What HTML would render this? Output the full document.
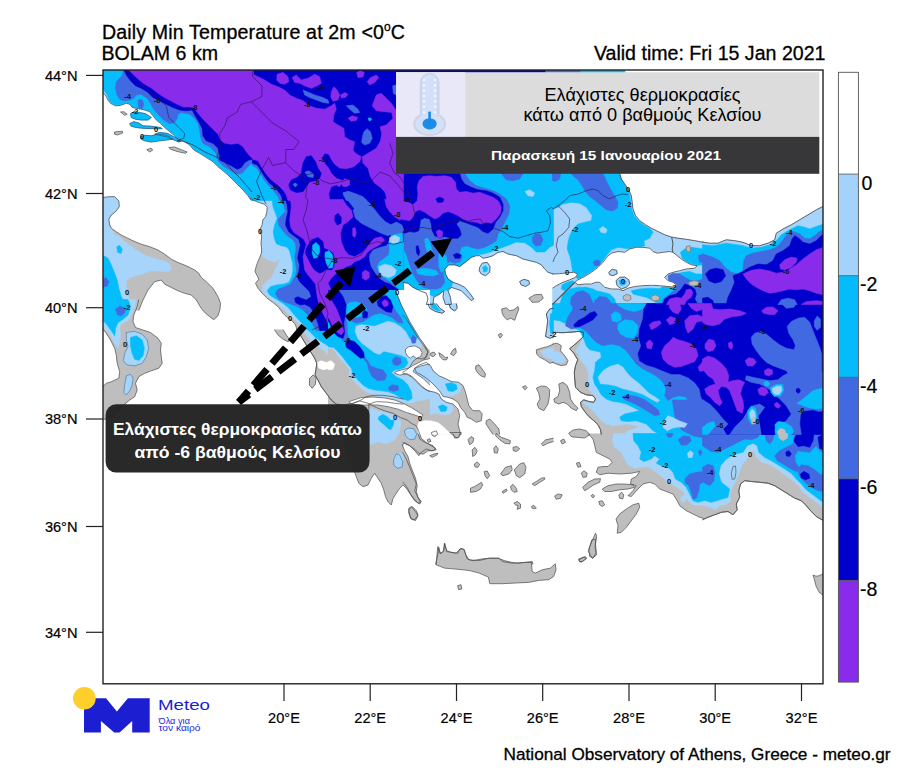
<!DOCTYPE html>
<html><head><meta charset="utf-8">
<style>
html,body{margin:0;padding:0;background:#fff;}
body{width:906px;height:780px;overflow:hidden;position:relative;font-family:"Liberation Sans",sans-serif;}
svg{position:absolute;left:0;top:0;}
text{font-family:"Liberation Sans",sans-serif;fill:#000;}
.tb text,text.tb{stroke:#000;stroke-width:0.3px;}
.tc text{stroke:#000;stroke-width:0.2px;}
</style></head><body>
<svg width="906" height="780" viewBox="0 0 906 780">
<defs>
<clipPath id="mapclip"><rect x="103" y="70" width="720" height="614"/></clipPath>
</defs>
<rect x="0" y="0" width="906" height="780" fill="#fff"/>
<!-- TITLES -->
<text class="tb" x="102" y="38.6" font-size="19.6" textLength="303" lengthAdjust="spacing">Daily Min Temperature at 2m &lt;0<tspan font-size="12" dy="-7.5">o</tspan><tspan dy="7.5">C</tspan></text>
<text class="tb" x="101.5" y="59.8" font-size="19.6">BOLAM 6 km</text>
<text class="tb" x="825.5" y="59.8" font-size="19.6" text-anchor="end">Valid time: Fri 15 Jan 2021</text>
<!-- MAP CONTENT -->
<g id="map" clip-path="url(#mapclip)">
<!--MAPBEGIN-->
<path d="M114.3 132.0 L122.2 131.2 L122.7 133.0 L117.2 135.0 L114.7 134.2Z M146.7 149.7 L151.3 148.3 L152.7 150.0 L149.7 152.0Z M168.8 147.5 L174.7 147.0 L181.3 149.7 L187.2 152.0 L185.5 153.3 L178.0 151.7 L170.5 149.2Z M120.5 112.0 L123.8 111.7 L127.2 114.2 L124.7 115.3Z M403.5 199.5 L403.5 330.5 L297.2 330.5 L295.5 325.0 L292.2 320.8 L287.2 317.5 L283.0 313.3 L278.8 307.5 L273.0 302.5 L267.2 298.3 L262.2 293.3 L258.0 288.3 L255.5 283.3 L258.8 279.2 L257.2 275.8 L255.0 271.7 L256.3 265.8 L259.3 258.3 L261.3 253.3 L261.7 250.0 L261.0 243.0 L261.7 236.2 L259.8 230.3 L262.2 224.7 L262.8 220.0 L265.7 216.5 L266.8 211.8 L267.3 207.3 L264.5 204.3 L256.3 201.5 L249.7 198.0Z M528.8 298.2 L534.7 294.8 L541.3 294.3 L543.3 298.2 L538.8 302.0 L532.2 302.3Z M138.8 299.5 L137.2 306.7 L133.8 315.0 L133.0 321.7 L135.5 327.5 L143.0 330.0 L150.5 332.5 L158.0 338.3 L161.3 343.3 L160.5 350.0 L161.3 356.7 L162.2 363.3 L158.8 368.3 L151.3 370.8 L144.7 373.3 L138.8 376.7 L135.5 383.3 L137.2 390.0 L134.7 396.7 L129.7 400.0 L124.7 404.2 L119.7 408.3 L113.0 416.7 L102.5 420.0 L102.5 386.7 L106.3 383.3 L111.3 381.7 L118.8 378.3 L119.7 371.7 L117.2 363.3 L116.3 355.0 L114.7 348.3 L110.5 340.0 L106.3 333.3 L102.5 328.3 L102.5 299.5Z M102.5 197.5 L109.7 196.7 L114.7 196.7 L118.8 200.8 L119.3 206.7 L115.5 211.7 L111.3 215.0 L108.8 219.2 L109.7 225.0 L111.3 228.3 L116.3 231.7 L121.3 235.0 L126.3 237.5 L133.0 240.8 L141.3 244.2 L149.7 246.7 L158.0 250.0 L164.7 254.2 L171.3 259.2 L178.0 262.5 L186.3 265.8 L194.7 270.0 L198.8 273.3 L201.3 277.5 L206.3 281.7 L213.0 288.3 L218.0 296.7 L220.5 303.3 L220.0 309.2 L218.0 315.8 L213.8 319.7 L209.7 316.7 L204.7 312.5 L201.0 308.0 L198.8 304.2 L196.3 300.0 L191.3 295.0 L184.7 293.3 L178.0 290.8 L171.3 287.5 L164.7 284.2 L161.3 280.0 L154.7 281.7 L148.0 290.0 L143.0 300.0 L138.8 310.5 L102.5 310.5Z M403.5 329.5 L403.5 399.2 L393.0 396.7 L383.0 395.3 L373.0 395.3 L366.3 396.7 L359.7 400.8 L353.0 403.3 L343.0 405.0 L336.3 404.2 L331.3 400.0 L326.3 393.3 L321.3 386.7 L318.0 380.0 L315.0 375.0 L316.0 369.2 L316.8 363.3 L314.7 358.3 L310.5 351.7 L306.3 345.0 L301.3 336.7 L297.2 329.5Z M368.8 404.2 L376.3 401.7 L386.3 402.0 L394.7 403.3 L403.5 404.2 L403.5 460.5 L368.8 460.5Z M283.0 329.5 L286.3 335.0 L290.0 340.0 L288.0 341.7 L283.0 339.2 L278.0 335.0 L274.3 329.5Z M309.7 378.3 L313.0 375.0 L316.0 377.5 L315.5 384.2 L312.2 388.3 L309.3 385.0Z M402.5 314.8 L406.3 319.0 L410.5 325.7 L414.7 332.3 L418.8 339.0 L423.8 345.7 L428.0 352.3 L426.3 357.3 L421.3 359.0 L417.2 358.2 L413.0 361.5 L409.7 367.3 L405.5 370.7 L402.5 372.3Z M414.7 368.2 L419.7 364.8 L426.3 362.3 L430.5 365.7 L433.0 370.7 L438.8 375.7 L444.7 378.2 L451.3 381.5 L458.8 382.3 L463.0 385.7 L465.5 392.3 L467.2 399.0 L468.8 405.7 L473.0 410.7 L479.7 410.7 L482.2 414.0 L481.3 420.7 L476.3 422.3 L471.3 419.0 L467.2 417.3 L464.7 412.3 L460.5 407.3 L458.0 402.3 L453.0 399.0 L448.0 397.3 L443.0 396.5 L440.5 392.3 L436.3 387.3 L431.3 382.3 L426.3 378.2 L421.3 374.8 L416.3 372.3Z M402.5 373.2 L408.0 374.0 L413.0 377.3 L418.0 382.3 L423.0 387.3 L428.0 390.7 L434.7 392.3 L438.8 394.0 L441.3 399.0 L446.3 402.3 L453.0 404.0 L458.0 409.0 L459.7 415.7 L458.0 424.0 L459.7 430.7 L461.3 434.5 L402.5 434.5Z M430.5 353.2 L433.8 352.0 L435.8 354.3 L433.3 356.7 L430.8 355.7Z M438.8 352.7 L442.2 354.8 L445.5 357.7 L447.7 357.0 L446.7 359.8 L443.0 359.8 L440.0 356.5Z M450.5 354.0 L453.0 349.8 L455.5 348.2 L456.3 352.3 L453.8 355.7Z M475.8 366.0 L478.8 364.8 L482.2 369.0 L485.5 374.0 L484.7 377.3 L480.5 375.7 L477.2 372.3 L475.5 369.0Z M501.7 309.0 L506.3 307.7 L509.7 310.7 L513.8 309.8 L518.0 306.5 L518.8 309.0 L516.3 315.7 L514.7 320.3 L510.5 318.2 L507.2 319.8 L503.8 316.5 L502.2 313.2Z M536.3 349.8 L541.3 348.2 L548.0 346.5 L553.5 344.0 L553.5 362.3 L549.7 363.2 L544.7 359.8 L539.7 357.3 L536.7 354.0Z M536.3 388.2 L541.3 386.0 L546.3 386.5 L549.7 389.8 L549.3 397.3 L548.0 404.0 L543.8 410.7 L538.8 408.2 L537.2 404.0 L540.0 399.0 L538.8 393.2Z M486.3 420.7 L489.7 419.0 L494.7 424.0 L498.8 429.0 L499.7 434.5 L493.0 434.5 L488.8 428.2 L486.0 424.0Z M522.5 386.8 L525.5 385.7 L527.2 387.8 L524.7 389.8Z M498.3 334.8 L501.0 333.2 L502.5 335.3 L500.0 338.2Z M703.5 303.5 L703.5 434.5 L601.3 434.5 L600.5 429.8 L598.0 424.8 L593.8 420.7 L588.8 416.5 L584.7 411.5 L581.3 406.5 L580.5 402.3 L583.8 399.8 L588.8 401.5 L593.8 402.3 L595.5 399.0 L593.0 395.7 L586.3 394.8 L580.5 392.3 L575.5 387.3 L574.7 379.0 L574.3 372.3 L575.5 365.7 L577.7 359.8 L573.8 353.2 L569.7 348.7 L573.3 345.7 L578.3 341.5 L583.3 336.5 L583.5 332.0 L578.0 331.5 L573.0 332.0 L563.0 332.7 L552.5 332.3 L552.5 303.5Z M558.8 384.0 L563.0 382.3 L567.2 385.7 L569.7 392.3 L570.5 399.0 L573.8 404.0 L578.0 408.2 L576.3 410.7 L571.3 408.2 L567.2 404.0 L563.0 402.3 L558.8 404.0 L554.7 402.3 L553.8 399.0 L558.0 396.5 L559.7 390.7Z M552.5 344.0 L557.2 343.2 L561.3 345.7 L560.5 350.7 L564.7 355.7 L568.0 360.7 L566.3 364.8 L561.3 365.7 L556.3 364.0 L552.5 362.3Z M823.5 433.5 L823.5 520.7 L816.3 516.5 L811.3 511.5 L806.3 505.7 L801.3 500.7 L794.7 498.2 L788.0 494.0 L781.3 489.8 L774.7 485.7 L768.0 483.2 L759.7 482.3 L751.3 481.5 L744.7 480.7 L740.5 484.0 L738.8 490.7 L739.7 497.3 L736.3 504.0 L737.2 509.8 L733.0 514.8 L728.0 511.5 L721.3 512.3 L714.7 514.8 L708.0 517.3 L702.5 519.8 L702.5 433.5Z M703.5 433.5 L703.5 518.2 L699.7 517.3 L693.0 514.0 L686.3 510.7 L679.7 505.7 L677.2 500.7 L673.0 494.0 L666.3 491.5 L659.7 489.0 L654.7 484.0 L649.7 482.3 L643.0 484.0 L638.0 489.0 L631.3 496.5 L628.0 495.7 L633.0 490.7 L636.3 485.7 L630.5 484.0 L631.3 479.0 L636.3 476.5 L639.7 471.5 L631.3 473.2 L619.7 474.0 L608.0 473.2 L599.7 474.8 L596.3 472.3 L598.0 467.3 L603.0 466.5 L608.0 466.5 L612.2 462.3 L609.7 459.0 L603.0 455.7 L596.3 452.3 L594.7 445.7 L593.0 439.0 L588.0 433.5Z M602.2 489.0 L608.0 485.7 L616.3 484.0 L624.7 484.0 L633.0 484.8 L634.7 487.3 L628.0 489.0 L619.7 489.8 L611.3 491.5 L604.7 491.5Z M616.0 519.0 L619.7 514.0 L626.3 509.0 L633.0 504.8 L638.8 503.2 L639.7 507.3 L636.3 514.0 L631.3 520.7 L626.3 527.3 L621.3 532.3 L617.2 533.2 L618.0 525.7Z M588.8 549.0 L592.2 540.7 L595.5 533.2 L596.7 535.7 L595.5 544.0 L596.3 552.3 L593.0 558.2 L589.7 556.5Z M578.8 559.0 L583.8 557.0 L586.3 558.2 L583.0 561.5 L579.7 562.0Z M582.7 487.3 L588.0 482.3 L594.7 479.0 L600.5 478.7 L599.7 482.3 L593.8 484.8 L588.8 488.2 L584.7 490.7Z M581.3 473.2 L583.8 470.7 L587.2 473.2 L586.3 477.0 L583.0 477.3Z M576.3 463.2 L579.3 462.3 L581.0 466.5 L578.0 467.3Z M618.8 494.8 L621.7 492.3 L623.8 494.8 L622.7 499.0 L619.7 498.2Z M591.0 495.7 L593.0 494.3 L594.7 496.0 L593.0 498.0Z M554.7 496.0 L558.0 494.0 L562.2 494.8 L560.5 498.2 L556.3 499.3Z M598.8 501.5 L602.2 500.7 L604.7 504.8 L602.2 506.5 L599.7 504.8Z M560.5 440.7 L563.8 439.0 L565.5 442.3 L562.2 444.0Z M402.5 433.5 L418.0 433.5 L419.7 439.0 L424.7 442.3 L433.0 445.7 L436.3 449.8 L431.3 450.7 L426.3 449.0 L421.3 452.3 L418.8 455.7 L414.7 450.7 L409.7 445.7 L405.5 444.0 L402.5 442.3Z M402.5 452.3 L406.3 459.0 L409.7 467.3 L413.0 475.7 L416.3 484.0 L414.7 490.7 L418.0 497.3 L421.3 501.5 L419.7 504.0 L414.7 500.7 L411.3 495.7 L408.0 489.0 L404.7 484.0 L402.5 482.3Z M408.8 508.2 L412.2 506.5 L416.3 510.7 L418.0 514.8 L414.7 519.8 L410.5 518.2 L408.8 513.2Z M435.5 564.5 L438.0 554.0 L438.8 547.3 L440.5 554.0 L443.8 550.7 L444.7 543.2 L446.7 550.7 L451.3 552.3 L458.0 553.2 L459.7 549.0 L463.8 549.0 L465.5 554.0 L467.2 559.0 L473.0 560.7 L481.3 559.0 L489.7 558.2 L498.0 558.2 L504.7 560.7 L511.3 562.3 L518.0 563.2 L524.7 562.3 L532.2 561.5 L533.0 564.5Z M468.0 439.8 L471.0 436.5 L473.8 438.2 L473.0 442.3 L469.7 444.8Z M472.2 449.8 L475.0 447.3 L477.2 450.7 L475.5 454.8 L472.7 456.5Z M474.3 464.0 L477.2 462.0 L479.7 464.3 L478.0 467.3 L475.0 467.0Z M484.3 471.5 L487.2 471.0 L489.7 475.7 L487.2 478.7 L485.0 475.7Z M470.5 488.2 L474.7 486.5 L478.8 484.0 L481.3 482.3 L482.7 484.8 L480.5 489.0 L476.3 491.5 L470.5 492.3Z M493.8 448.2 L496.0 445.7 L498.3 449.0 L497.2 453.2 L494.3 452.7Z M496.3 433.5 L501.3 437.3 L506.3 439.0 L510.5 440.7 L509.7 444.0 L504.7 443.2 L499.7 439.8 L495.5 435.7Z M513.0 447.3 L517.2 446.5 L519.7 449.0 L516.3 451.5 L513.3 450.7Z M500.5 474.0 L505.5 467.3 L511.3 465.7 L512.2 469.8 L508.8 474.0 L503.0 475.7Z M514.3 469.8 L519.7 464.0 L523.8 462.7 L526.0 467.3 L524.7 474.0 L519.7 477.7 L516.3 475.7Z M510.5 486.5 L513.0 484.3 L516.3 488.2 L517.2 491.5 L513.8 492.3 L511.3 489.8Z M502.2 491.5 L506.3 489.0 L507.2 490.7 L503.0 493.2Z M513.8 503.2 L517.2 501.5 L520.5 504.0 L520.5 508.2 L517.2 509.3 L518.0 505.7 L515.5 504.8Z M531.3 506.5 L533.8 505.3 L536.3 508.2 L532.7 508.7Z M532.2 484.0 L536.3 481.5 L541.3 478.2 L544.7 477.7 L544.7 479.3 L539.7 482.3 L534.7 485.7Z M541.3 444.0 L545.5 439.8 L553.5 438.2 L553.5 441.5 L548.0 443.2 L543.0 445.7Z M429.7 455.7 L433.8 454.0 L438.0 453.2 L437.2 454.8 L432.2 457.3Z M453.0 433.5 L459.7 433.5 L458.8 437.3 L454.7 438.2Z M427.2 439.8 L429.7 438.7 L431.0 441.5 L428.3 442.3Z M359.7 400.8 L368.0 403.3 L376.3 407.5 L384.7 410.8 L393.0 413.3 L400.5 417.5 L407.2 420.0 L411.3 423.3 L416.3 425.8 L418.8 431.7 L421.3 438.3 L426.3 442.5 L431.3 445.8 L435.5 448.3 L433.8 450.8 L428.0 450.8 L423.0 454.2 L418.8 453.3 L414.7 449.2 L409.7 445.8 L404.7 442.5 L402.2 445.0 L404.7 450.8 L408.0 456.7 L409.7 463.3 L412.2 470.0 L415.5 478.3 L417.2 485.8 L416.3 491.7 L418.0 497.5 L420.5 502.5 L418.0 503.3 L413.8 498.3 L409.7 493.3 L406.3 488.3 L403.0 485.0 L399.7 488.3 L396.3 493.3 L393.0 498.3 L391.3 505.0 L388.0 501.7 L385.5 496.7 L383.8 490.0 L381.3 483.3 L378.0 478.3 L374.7 473.3 L371.3 478.3 L368.0 485.0 L363.0 486.7 L358.8 483.3 L356.3 476.7 L354.7 472.5 L349.7 460.0 L346.3 448.3 L343.0 436.7 L342.5 423.3 L348.0 410.0 L353.0 403.3Z M408.8 510.0 L411.3 506.7 L415.5 511.7 L418.0 515.8 L415.5 520.5 L411.3 519.2 L409.7 514.2Z M449.7 432.5 L461.3 432.5 L459.7 435.8 L457.2 438.3 L453.0 435.0Z M431.3 432.5 L436.3 430.8 L437.7 434.2 L434.7 436.7 L432.2 435.3Z M436.1 564.8 L437.8 546.6 L440.1 553.2 L443.4 551.6 L444.4 543.3 L446.7 551.6 L456.0 553.2 L460.9 548.3 L464.3 549.9 L465.9 554.9 L469.2 559.9 L479.2 560.5 L489.1 558.2 L499.0 558.2 L502.3 561.5 L512.3 563.2 L525.5 562.5 L531.5 562.5 L532.1 571.5 L535.5 573.1 L542.1 569.8 L550.4 568.1 L555.3 563.8 L556.0 569.8 L553.7 576.4 L548.7 579.7 L538.8 580.4 L528.8 582.4 L515.6 583.0 L502.3 583.7 L489.8 583.7 L488.4 577.1 L479.2 573.1 L469.2 570.5 L456.0 569.1 L444.4 568.1Z M588.4 551.6 L591.7 540.0 L595.7 539.0 L595.1 548.3 L596.7 554.9 L592.4 558.2Z M578.5 559.9 L585.1 556.6 L586.8 558.2 L581.1 562.2Z M457.6 585.7 L460.9 584.7 L461.9 589.0 L458.6 589.7Z M813.0 575.1 L816.1 576.2 L819.2 575.7 L823.2 573.8 L823.2 595.4 L819.2 592.3 L816.1 586.2 L814.5 580.0Z M568.7 433.3 L573.0 430.0 L579.7 429.0 L586.3 430.7 L589.7 434.7 L584.7 438.0 L576.3 437.3 L571.3 436.7Z" fill="#bebebe" stroke="none"/>
<path d="M102.5 69.5 L253.5 69.5 L253.5 200.5 L251.3 200.5 L248.0 195.8 L243.0 190.0 L238.0 185.0 L233.0 180.0 L228.0 175.0 L223.0 170.8 L218.0 166.7 L213.0 161.7 L206.3 157.5 L199.7 153.3 L193.8 150.0 L189.7 145.0 L183.0 140.8 L177.2 138.3 L174.7 135.8 L169.7 131.7 L164.7 127.5 L160.5 123.3 L156.3 120.0 L153.0 115.8 L149.7 111.7 L144.7 110.0 L138.8 108.7 L132.2 107.5 L129.7 104.2 L126.3 103.3 L120.5 105.3 L115.5 105.8 L110.5 103.3 L108.0 100.0 L105.5 95.0 L102.5 92.5Z M252.5 69.5 L403.5 69.5 L403.5 200.5 L252.5 200.5Z M403.5 199.5 L403.5 330.5 L301.3 330.5 L300.5 326.7 L298.0 322.5 L293.8 319.2 L288.8 315.0 L283.8 309.2 L278.0 304.2 L271.3 300.0 L265.5 295.0 L262.2 290.0 L263.0 285.0 L266.3 281.7 L271.3 278.3 L273.8 273.3 L275.5 268.3 L278.0 264.2 L279.7 259.2 L274.7 261.7 L268.0 260.0 L263.0 256.7 L261.3 253.3 L261.7 250.0 L261.0 243.0 L261.7 236.2 L259.8 230.3 L262.2 224.7 L262.8 220.0 L265.7 216.5 L266.8 211.8 L267.3 207.3 L264.5 204.3 L256.3 201.5 L249.7 198.0Z M402.5 173.5 L553.5 173.5 L553.5 274.0 L548.0 272.3 L544.7 269.0 L541.3 264.8 L536.3 262.3 L529.7 260.7 L523.0 259.0 L516.3 255.7 L508.0 254.0 L503.0 251.5 L498.0 252.3 L493.0 255.7 L488.0 257.3 L483.0 258.2 L479.7 255.7 L476.3 255.7 L471.3 257.3 L467.2 260.7 L463.0 264.0 L459.7 266.5 L454.7 264.8 L448.8 264.8 L444.7 269.0 L445.5 274.0 L448.0 279.0 L453.0 282.3 L458.0 284.0 L464.7 287.3 L469.7 293.2 L473.8 299.0 L471.3 300.7 L466.3 295.7 L461.3 290.7 L456.3 289.0 L451.3 287.3 L448.0 290.7 L450.5 297.3 L451.3 304.5 L445.5 304.5 L443.0 297.3 L443.8 290.7 L439.7 294.0 L433.8 297.3 L433.0 304.5 L426.3 304.5 L428.0 299.0 L426.3 293.2 L419.7 290.7 L413.0 287.3 L408.0 283.2 L402.5 282.3Z M479.7 267.3 L482.2 263.2 L487.2 262.3 L490.0 266.5 L489.7 272.3 L485.5 275.7 L481.3 274.0 L479.2 270.7Z M519.7 281.5 L523.8 279.3 L528.8 280.7 L529.7 284.0 L525.5 286.5 L521.0 284.8Z M552.5 173.5 L619.7 173.5 L621.3 179.0 L624.7 184.0 L628.8 189.8 L631.3 195.7 L632.2 202.3 L633.0 209.0 L635.5 215.7 L639.7 220.7 L645.5 224.8 L651.3 228.2 L658.0 231.5 L664.7 234.8 L671.3 237.0 L678.0 238.2 L686.3 239.3 L694.7 240.7 L703.5 242.3 L703.5 304.5 L552.5 304.5Z M702.5 242.0 L709.7 243.2 L718.0 243.2 L726.3 239.8 L734.7 240.7 L743.0 242.3 L751.3 245.7 L759.7 245.7 L768.0 243.2 L774.7 239.8 L776.3 233.2 L783.0 229.0 L791.3 224.8 L799.7 219.8 L808.0 214.8 L816.3 209.8 L823.5 206.2 L823.5 304.5 L702.5 304.5Z M102.5 299.5 L136.3 299.5 L134.7 306.7 L131.3 315.0 L128.0 320.8 L122.2 323.3 L119.7 327.5 L120.5 335.0 L119.7 341.7 L118.0 348.3 L115.5 345.0 L112.2 338.3 L108.0 332.5 L102.5 326.7Z M126.3 332.5 L134.7 331.3 L142.2 334.2 L147.2 340.0 L148.8 348.3 L146.3 356.7 L142.2 363.3 L134.7 365.8 L127.2 365.0 L123.3 360.8 L124.7 353.3 L128.0 346.7 L126.3 339.2Z M126.3 375.8 L130.5 374.2 L133.0 378.3 L132.2 385.0 L129.7 390.8 L126.3 395.0 L123.8 392.5 L124.7 385.0Z M102.5 197.5 L109.7 196.7 L114.7 196.7 L118.8 200.8 L119.3 206.7 L115.5 211.7 L111.3 215.0 L108.8 219.2 L109.7 225.0 L111.3 228.3 L114.7 235.0 L119.7 236.7 L124.7 241.7 L129.7 245.0 L136.3 250.0 L143.0 254.2 L151.3 257.5 L159.7 260.0 L166.3 261.7 L170.5 265.0 L171.3 269.2 L168.0 271.7 L159.7 271.3 L151.3 270.8 L144.7 273.3 L136.3 275.8 L129.7 277.5 L126.3 281.7 L126.3 288.3 L128.0 295.0 L129.7 301.7 L128.0 310.5 L102.5 310.5Z M403.5 329.5 L403.5 398.3 L396.3 396.7 L386.3 395.3 L376.3 394.2 L368.0 391.7 L361.3 387.5 L356.3 383.3 L353.0 378.3 L351.3 371.7 L348.0 365.8 L341.3 361.7 L334.7 359.2 L328.0 355.0 L323.0 350.0 L318.0 346.7 L311.3 341.7 L306.3 335.0 L301.3 329.5Z M368.8 408.3 L376.3 410.0 L383.0 411.7 L391.3 413.3 L398.0 416.7 L401.0 422.5 L399.7 428.3 L396.7 433.3 L393.0 438.3 L388.8 440.8 L384.7 439.2 L379.7 440.8 L374.7 443.3 L368.8 445.0Z M393.8 456.7 L398.0 453.7 L403.5 453.3 L403.5 460.5 L394.7 460.5Z M402.5 314.8 L406.3 319.0 L410.5 325.7 L414.7 332.3 L418.8 339.0 L422.2 344.8 L421.3 349.0 L418.8 354.0 L417.2 358.2 L413.0 361.5 L409.7 367.3 L405.5 370.7 L402.5 372.3Z M414.7 368.2 L419.7 364.8 L426.3 362.3 L430.5 366.5 L433.8 371.5 L438.8 376.0 L444.7 378.5 L451.3 381.8 L458.8 382.7 L461.3 387.3 L459.7 392.3 L453.0 395.7 L446.3 396.5 L442.2 394.8 L440.5 391.5 L436.3 387.0 L431.3 382.0 L426.3 377.8 L421.3 374.5 L416.3 372.0Z M402.5 373.2 L408.0 374.0 L413.0 377.3 L418.0 382.3 L423.0 387.3 L428.0 390.7 L434.7 392.3 L438.8 394.0 L441.3 399.0 L446.3 402.3 L452.2 404.8 L453.0 410.7 L449.7 414.0 L443.0 414.8 L436.3 413.2 L429.7 414.8 L424.7 414.0 L421.3 410.7 L416.3 407.3 L409.7 405.3 L402.5 404.0Z M540.5 351.5 L546.3 349.0 L553.5 347.7 L553.5 359.0 L549.7 359.0 L544.7 356.5Z M546.3 314.0 L549.7 309.0 L553.5 308.2 L553.5 337.3 L549.7 338.2 L545.5 336.5 L546.7 329.0 L547.7 320.7Z M436.3 303.5 L439.7 308.2 L444.7 311.5 L442.2 313.2 L435.5 311.5 L429.7 308.2 L428.0 303.5Z M456.3 303.5 L457.2 308.2 L454.7 311.0 L450.5 308.2 L448.8 303.5Z M552.5 352.3 L558.0 351.5 L563.0 355.7 L565.5 360.7 L562.2 363.2 L556.3 362.3 L552.5 360.7Z M552.5 303.5 L703.5 303.5 L703.5 434.5 L623.0 434.5 L628.0 430.7 L636.3 428.2 L638.8 426.5 L633.0 424.8 L626.3 424.0 L619.7 424.8 L613.0 425.7 L606.3 424.0 L601.3 420.7 L597.2 415.7 L593.0 410.7 L588.8 406.5 L583.8 404.0 L582.2 400.7 L588.8 402.3 L593.8 402.7 L596.0 399.3 L594.7 395.7 L589.7 390.7 L588.0 382.3 L588.8 374.0 L586.3 367.3 L580.5 359.8 L578.0 354.0 L575.5 350.7 L580.5 344.0 L583.3 336.5 L583.5 332.0 L578.0 331.5 L573.0 332.0 L563.0 332.7 L552.5 332.3Z M702.5 303.5 L823.5 303.5 L823.5 434.5 L702.5 434.5Z M702.5 433.5 L823.5 433.5 L823.5 508.2 L816.3 502.3 L809.7 497.3 L803.0 492.3 L799.7 487.3 L794.7 482.3 L788.0 477.3 L781.3 472.3 L774.7 467.3 L768.0 464.0 L761.3 462.3 L756.3 457.3 L753.8 450.7 L750.5 451.5 L747.2 459.0 L741.3 465.7 L738.8 473.2 L735.5 481.5 L732.2 487.3 L729.7 494.0 L730.5 501.5 L726.3 504.0 L719.7 505.7 L715.5 509.8 L709.7 507.3 L702.5 504.8Z M731.3 473.2 L733.0 466.5 L735.5 466.0 L736.0 472.3 L734.7 479.0 L732.2 479.3Z M703.5 433.5 L703.5 504.8 L699.7 505.7 L693.0 504.8 L688.0 500.7 L684.7 494.0 L679.7 489.0 L673.0 484.8 L666.3 480.7 L659.7 474.8 L653.0 469.8 L648.0 466.5 L641.3 467.3 L634.7 468.2 L628.0 464.8 L624.7 459.0 L621.3 452.3 L614.7 447.3 L612.2 440.7 L613.8 433.5Z M680.5 498.2 L683.8 494.8 L686.7 496.5 L685.5 501.5 L681.7 502.3Z M368.8 408.3 L376.3 410.0 L384.7 412.5 L393.0 415.0 L398.8 419.2 L400.5 425.8 L398.8 433.3 L394.7 440.0 L388.0 443.3 L381.3 443.3 L376.3 439.2 L373.8 431.7 L368.8 429.2Z M404.3 430.8 L408.0 428.0 L413.8 428.7 L416.7 434.2 L414.7 439.2 L409.7 439.7 L405.5 435.8Z M393.5 460.0 L396.3 453.7 L399.7 455.0 L402.7 461.7 L402.2 467.0 L397.2 468.3 L393.8 465.0Z" fill="#a6d4fa" stroke="#a6d4fa" stroke-width="0.6" stroke-linejoin="round"/>
<path d="M102.5 69.5 L253.5 69.5 L253.5 200.5 L251.8 200.5 L248.3 195.3 L243.3 189.5 L238.3 184.5 L233.3 179.5 L228.3 174.5 L223.3 170.3 L218.3 166.2 L213.3 161.2 L206.7 157.0 L200.0 152.8 L194.2 149.5 L190.0 144.5 L183.3 140.3 L177.5 137.8 L175.0 135.3 L170.0 131.2 L165.0 127.0 L160.8 122.8 L156.7 119.5 L153.3 115.3 L150.0 111.2 L144.7 109.5 L138.8 108.2 L132.5 107.0 L130.0 103.7 L126.3 102.8 L120.5 104.7 L115.5 105.0 L111.0 102.7 L108.8 99.3 L107.2 95.0 L102.5 88.3Z M130.5 113.7 L133.8 111.7 L139.7 112.5 L145.5 113.7 L151.3 117.5 L148.0 120.0 L141.3 120.0 L135.5 119.2 L131.3 117.5Z M129.7 123.7 L133.8 121.7 L138.8 123.0 L143.0 125.8 L151.3 126.3 L160.5 127.5 L162.2 128.7 L153.0 128.7 L143.0 128.3 L136.3 127.5 L131.3 126.3Z M140.5 136.7 L144.7 135.3 L151.3 135.8 L158.0 134.2 L164.7 135.0 L169.7 136.7 L173.0 139.2 L166.3 140.0 L159.7 140.8 L151.3 142.0 L144.7 140.8 L141.0 139.2Z M154.7 134.2 L159.7 132.5 L167.2 133.3 L173.8 136.7 L181.3 140.8 L178.8 142.0 L172.2 139.2 L166.3 136.7 L159.7 135.3Z M252.5 69.5 L403.5 69.5 L403.5 200.5 L252.5 200.5Z M403.5 199.5 L403.5 330.5 L308.0 330.5 L305.5 326.7 L301.3 322.5 L297.7 318.7 L293.8 314.2 L288.8 308.0 L283.0 303.3 L276.3 299.2 L269.7 295.0 L267.2 290.8 L270.5 286.7 L276.3 285.0 L283.0 284.2 L288.8 282.5 L291.7 276.7 L293.0 270.0 L292.7 263.3 L291.0 256.7 L289.3 250.0 L286.3 246.7 L281.3 245.8 L276.3 243.7 L274.3 238.3 L273.3 231.7 L274.7 225.0 L277.2 218.3 L275.5 213.3 L273.0 206.7 L272.2 199.5Z M402.5 173.5 L553.5 173.5 L553.5 245.3 L549.7 247.3 L544.7 252.0 L536.3 252.0 L531.3 247.0 L524.7 242.7 L516.3 242.0 L509.7 244.8 L503.0 247.3 L496.3 249.8 L489.7 252.3 L483.0 254.0 L476.3 254.8 L471.3 257.3 L467.2 260.7 L463.0 264.0 L459.7 266.5 L454.7 264.8 L448.8 264.8 L444.7 269.0 L445.5 274.0 L448.0 279.0 L453.0 282.3 L451.3 287.0 L448.0 290.3 L443.8 290.3 L439.7 293.7 L433.8 296.5 L426.3 293.2 L419.7 290.7 L413.0 287.3 L408.0 283.2 L402.5 282.3Z M482.7 267.3 L485.5 265.7 L487.7 268.2 L486.7 271.5 L483.8 272.0Z M552.5 173.5 L619.7 173.5 L621.3 179.0 L624.3 184.3 L628.0 190.2 L630.0 196.0 L630.8 202.7 L631.7 209.3 L634.3 216.0 L638.8 221.3 L644.7 225.7 L650.5 229.0 L653.0 232.3 L649.7 238.2 L643.8 240.7 L644.7 245.7 L639.7 247.3 L634.7 247.3 L629.7 249.0 L624.7 248.2 L618.0 247.3 L611.3 249.8 L606.3 255.7 L602.2 261.5 L597.2 267.0 L590.5 272.0 L583.8 276.0 L578.0 279.3 L573.0 274.0 L572.2 269.0 L571.3 262.3 L569.7 255.7 L567.2 249.0 L568.0 242.3 L569.7 235.7 L573.0 229.0 L578.0 224.0 L584.7 222.3 L591.3 220.7 L592.2 215.7 L586.3 207.3 L579.7 203.2 L571.3 202.3 L563.0 204.0 L558.0 207.3 L553.0 209.0 L552.5 209.0Z M563.0 294.0 L569.7 289.0 L578.0 287.3 L586.3 287.3 L593.0 289.0 L596.3 290.7 L603.0 292.3 L609.7 294.0 L614.7 299.0 L616.3 304.5 L559.7 304.5Z M562.2 284.8 L568.0 282.0 L573.0 280.7 L574.7 283.2 L569.7 288.2 L564.7 290.7 L561.3 289.0Z M631.3 290.7 L639.7 289.0 L649.7 288.2 L659.7 288.7 L666.3 284.0 L669.7 277.3 L676.3 274.0 L683.0 272.3 L689.7 271.5 L696.3 274.0 L703.5 274.0 L703.5 304.5 L659.7 304.5 L653.0 300.7 L646.3 297.3 L639.7 295.7 L633.0 294.0Z M680.5 252.3 L684.7 249.0 L691.3 247.3 L698.0 248.2 L703.5 249.0 L703.5 264.8 L698.0 265.3 L692.2 264.5 L686.3 261.5 L682.2 258.2Z M702.5 244.8 L713.0 245.7 L726.3 243.2 L743.0 245.7 L751.3 248.2 L761.3 247.3 L769.7 244.8 L776.3 240.7 L781.3 234.8 L789.7 229.8 L798.0 225.7 L804.7 227.3 L809.7 229.0 L816.3 226.5 L823.5 224.0 L823.5 304.5 L702.5 304.5Z M102.5 299.5 L128.0 299.5 L130.5 306.7 L128.0 315.0 L123.0 319.2 L118.0 322.5 L115.5 328.3 L114.7 335.8 L111.3 330.8 L107.2 325.0 L102.5 320.0Z M130.5 337.5 L136.3 335.8 L142.2 340.0 L144.3 348.3 L143.0 355.8 L138.8 360.3 L134.7 359.2 L132.2 353.3 L130.5 345.8Z M102.5 255.0 L108.0 258.3 L111.3 265.0 L114.7 273.3 L117.2 280.0 L118.8 288.3 L121.3 296.7 L124.7 303.3 L128.0 310.5 L102.5 310.5Z M116.7 246.7 L119.7 245.5 L122.2 249.2 L121.0 253.3 L117.7 252.5Z M353.0 329.5 L354.7 331.7 L359.7 336.7 L364.7 341.7 L369.7 345.0 L374.7 346.7 L379.7 350.0 L384.7 353.3 L391.3 351.7 L398.0 353.3 L403.5 355.0 L403.5 393.3 L394.7 392.5 L386.3 390.8 L378.0 388.3 L369.7 385.8 L363.0 381.7 L358.8 376.7 L356.3 370.0 L351.3 363.3 L344.7 358.3 L339.7 355.0 L334.7 350.0 L328.0 345.8 L321.3 341.7 L314.7 336.7 L308.0 329.5Z M378.8 416.7 L383.0 414.2 L386.3 416.7 L389.7 420.8 L394.7 418.3 L393.0 425.0 L388.8 429.2 L384.7 425.0 L380.5 421.7Z M402.5 316.5 L405.5 319.8 L409.7 326.5 L413.8 333.2 L418.0 339.8 L421.3 344.8 L417.2 345.7 L413.0 343.2 L408.8 342.3 L406.3 345.7 L407.2 352.3 L409.7 359.0 L413.0 361.5 L409.7 367.3 L405.5 369.8 L402.5 370.7Z M445.5 384.0 L451.3 382.7 L456.3 384.8 L457.2 389.0 L453.0 391.5 L448.0 390.7Z M402.5 377.3 L406.3 382.3 L409.7 390.7 L412.2 397.3 L410.5 402.3 L405.5 400.7 L402.5 397.3Z M438.3 406.5 L443.0 404.8 L447.2 407.3 L446.0 411.0 L441.0 411.5Z M550.5 314.0 L553.5 312.3 L553.5 334.0 L550.5 333.2 L549.7 324.0Z M434.7 303.5 L437.2 307.3 L440.5 311.0 L436.3 310.3 L431.7 307.7 L429.7 303.5Z M552.5 303.5 L703.5 303.5 L703.5 434.5 L659.7 434.5 L653.0 430.7 L646.3 424.0 L636.3 420.7 L628.0 421.5 L621.3 420.7 L619.7 417.3 L624.7 414.0 L633.0 412.3 L639.7 410.7 L633.0 407.3 L626.3 404.0 L619.7 402.3 L613.0 401.5 L606.3 399.0 L601.3 394.8 L598.0 389.0 L594.7 384.0 L593.0 377.3 L594.7 370.7 L595.5 362.3 L601.3 357.3 L600.5 352.3 L594.7 350.7 L589.7 349.8 L586.3 345.7 L583.8 339.0 L579.7 330.7 L573.0 327.3 L566.3 324.0 L559.7 320.7 L552.5 319.8Z M702.5 303.5 L823.5 303.5 L823.5 434.5 L702.5 434.5Z M702.5 433.5 L823.5 433.5 L823.5 502.3 L819.7 499.8 L813.0 494.8 L806.3 489.8 L801.3 484.0 L796.3 479.0 L791.3 473.2 L784.7 469.0 L778.0 464.8 L771.3 460.7 L764.7 457.3 L758.8 452.3 L757.2 445.7 L753.0 443.2 L747.2 445.7 L743.0 452.3 L734.7 454.0 L726.3 459.0 L720.5 465.7 L718.8 474.0 L721.3 482.3 L729.7 489.0 L728.0 497.3 L719.7 499.8 L711.3 502.3 L702.5 499.8Z M703.5 433.5 L703.5 500.7 L698.0 502.3 L693.0 500.7 L689.7 494.0 L686.3 487.3 L681.3 482.3 L675.5 479.0 L673.0 472.3 L668.0 467.3 L661.3 465.7 L656.3 463.2 L659.7 459.0 L654.7 455.7 L651.3 459.0 L643.8 461.5 L639.7 459.0 L641.3 452.3 L638.0 445.7 L633.8 440.7 L633.0 433.5Z M378.8 416.7 L383.0 414.2 L387.2 416.7 L391.3 420.8 L393.0 425.8 L390.5 430.0 L386.3 425.8 L382.2 422.5 L378.8 420.0Z M580.0 69.0 L625.0 69.0 L625.0 74.0 L580.0 74.0Z" fill="#05bdfb" stroke="#05bdfb" stroke-width="0.6" stroke-linejoin="round"/>
<path d="M123.0 69.5 L253.5 69.5 L253.5 163.3 L250.5 164.2 L246.3 168.3 L242.2 173.3 L236.3 174.2 L229.7 170.0 L223.0 165.8 L218.0 160.8 L216.3 153.3 L209.7 146.7 L203.0 143.3 L200.5 136.7 L199.7 130.0 L198.0 123.3 L194.7 118.3 L189.7 114.2 L181.3 112.5 L178.0 114.2 L177.2 118.3 L174.7 122.5 L169.7 123.7 L163.8 120.0 L158.8 115.0 L153.8 109.2 L150.5 103.3 L147.2 98.3 L141.3 94.2 L136.3 95.0 L133.8 98.3 L129.7 100.0 L123.8 100.8 L119.7 99.2 L117.2 95.0 L115.5 88.3 L116.3 81.7 L119.7 78.3 L122.7 74.7Z M138.0 100.0 L142.2 99.7 L143.8 104.2 L142.2 108.7 L138.8 107.5Z M252.5 69.5 L403.5 69.5 L403.5 200.5 L279.7 200.5 L278.0 196.7 L273.8 190.8 L268.8 185.8 L263.8 179.2 L259.7 172.5 L256.3 167.5 L252.5 165.8Z M403.5 199.5 L403.5 330.5 L316.3 330.5 L313.0 325.0 L310.5 320.0 L308.0 315.0 L303.0 310.0 L298.0 306.7 L291.3 304.2 L283.8 301.7 L278.0 298.3 L275.5 293.3 L278.0 289.2 L284.7 286.7 L290.5 284.2 L293.0 280.0 L295.5 275.8 L296.7 270.0 L295.5 263.3 L294.7 256.7 L296.0 250.0 L295.5 243.3 L292.2 239.2 L287.2 235.8 L283.0 230.8 L278.8 225.0 L278.0 219.2 L281.3 215.8 L285.5 211.7 L283.8 205.0 L280.5 199.5Z M402.5 173.5 L464.7 173.5 L469.7 180.7 L476.3 185.7 L484.7 188.2 L493.0 190.7 L499.7 194.0 L506.3 199.0 L509.7 205.7 L508.8 214.0 L504.7 222.3 L501.3 229.0 L498.0 234.0 L496.3 240.7 L491.3 244.0 L484.7 247.3 L478.0 249.0 L471.3 247.3 L466.3 245.7 L461.3 247.3 L459.7 252.3 L462.2 257.3 L460.5 261.5 L454.7 263.2 L449.7 261.5 L445.5 264.8 L443.0 270.7 L443.8 277.3 L444.7 282.3 L441.3 287.3 L436.3 289.0 L429.7 289.0 L423.0 287.3 L418.0 282.3 L413.0 274.0 L409.7 264.0 L406.3 254.0 L402.5 247.3Z M532.2 237.3 L535.5 233.7 L540.5 234.3 L543.0 239.8 L540.5 245.3 L535.5 246.0 L532.7 242.3Z M501.3 173.5 L523.0 173.5 L519.7 179.0 L513.0 180.7 L506.3 179.8Z M571.3 173.5 L603.0 173.5 L606.3 180.7 L610.5 189.0 L614.7 195.7 L618.0 202.3 L617.2 208.2 L612.2 211.0 L606.3 209.8 L601.3 205.7 L595.5 200.7 L589.7 196.5 L585.5 191.5 L582.2 185.7 L578.0 179.8 L573.0 175.7Z M552.5 173.5 L560.5 173.5 L559.7 179.0 L555.5 181.5 L552.5 180.7Z M593.0 262.3 L596.7 259.8 L600.5 261.5 L599.3 265.3 L594.7 265.7Z M571.3 297.3 L576.3 292.3 L583.0 290.7 L588.8 294.0 L592.2 300.7 L593.0 304.5 L570.5 304.5Z M594.7 300.7 L599.7 296.5 L606.3 297.3 L610.5 301.5 L611.3 304.5 L593.8 304.5Z M668.0 275.7 L673.0 273.2 L679.7 274.0 L684.7 277.3 L691.3 280.7 L698.0 280.7 L703.5 279.0 L703.5 304.5 L661.3 304.5 L663.0 299.0 L669.7 294.0 L676.3 289.0 L673.0 284.0 L668.8 280.7Z M698.3 255.7 L703.5 254.0 L703.5 262.3 L699.7 262.3Z M702.5 254.0 L713.0 257.3 L719.7 260.7 L724.7 267.3 L731.3 272.3 L738.0 274.0 L743.0 270.7 L743.8 260.7 L746.3 255.7 L753.0 253.2 L761.3 251.5 L769.7 249.8 L776.3 247.3 L781.3 242.3 L784.7 237.3 L788.0 233.2 L793.0 231.5 L799.7 234.0 L804.7 238.2 L809.7 239.0 L814.7 235.7 L819.7 231.5 L823.5 229.8 L823.5 304.5 L702.5 304.5Z M116.0 309.2 L119.7 306.3 L124.3 308.3 L125.0 312.5 L121.3 315.8 L117.2 314.7Z M102.5 278.3 L106.3 278.0 L108.8 281.7 L107.2 286.3 L102.5 286.7Z M115.5 309.2 L119.7 306.7 L124.7 308.0 L125.5 310.5 L115.5 310.5Z M349.7 329.5 L351.3 336.7 L354.7 341.7 L359.7 346.7 L364.7 351.7 L368.0 356.7 L369.7 363.3 L373.0 368.3 L378.0 371.7 L384.7 373.3 L388.0 378.3 L386.3 384.2 L379.7 385.8 L373.0 383.3 L366.3 380.0 L359.7 375.0 L355.5 368.3 L349.7 361.7 L343.8 356.7 L341.3 350.0 L336.3 343.3 L331.3 336.7 L326.3 329.5Z M393.3 360.8 L397.2 358.0 L401.3 360.0 L400.5 365.0 L396.0 365.8Z M388.3 387.5 L393.0 384.2 L397.7 385.8 L397.2 390.0 L391.3 391.0Z M703.5 303.5 L703.5 426.5 L698.0 424.0 L691.3 419.0 L688.0 412.3 L689.7 404.0 L686.3 397.3 L679.7 395.7 L673.0 397.3 L668.0 400.7 L664.7 395.7 L666.3 389.0 L663.0 382.3 L658.0 377.3 L651.3 373.2 L643.0 369.0 L636.3 364.0 L631.3 357.3 L626.3 350.7 L619.7 345.7 L611.3 344.0 L603.0 345.7 L596.3 342.3 L591.3 337.3 L586.3 331.5 L579.7 327.3 L571.3 329.0 L565.5 325.7 L567.2 319.0 L569.7 314.0 L573.0 309.0 L571.3 303.5Z M622.2 396.5 L628.0 394.8 L636.3 396.5 L644.7 399.8 L653.0 405.7 L658.8 410.7 L659.7 414.8 L654.7 415.7 L648.0 411.5 L639.7 406.5 L631.3 402.3 L624.7 399.8Z M702.5 303.5 L823.5 303.5 L823.5 434.5 L702.5 434.5Z M702.5 433.5 L759.7 433.5 L758.0 437.3 L751.3 439.8 L744.7 439.0 L738.0 442.3 L731.3 445.7 L724.7 449.0 L718.0 452.3 L711.3 451.5 L706.3 448.2 L702.5 445.7Z M702.5 467.3 L708.0 464.3 L713.0 465.7 L715.0 472.3 L713.8 480.7 L709.7 485.7 L704.7 483.2 L702.5 480.7Z M765.0 433.5 L773.8 433.5 L773.0 439.8 L769.7 444.0 L766.3 440.7Z M774.7 455.7 L779.7 450.7 L786.3 447.3 L793.0 444.0 L793.8 437.3 L796.3 433.5 L823.5 433.5 L823.5 452.3 L819.7 450.7 L816.3 445.7 L813.0 449.0 L809.7 452.3 L803.0 451.5 L798.0 450.7 L794.7 455.7 L795.5 462.3 L798.8 467.3 L796.3 471.5 L789.7 468.2 L783.0 464.0 L777.2 460.7Z M797.2 469.8 L801.3 464.8 L808.0 465.7 L814.7 469.8 L819.7 474.0 L823.5 475.7 L823.5 491.5 L818.0 490.7 L811.3 487.3 L804.7 482.3 L799.7 476.5Z M684.7 479.0 L689.7 474.0 L696.3 472.3 L703.5 471.5 L703.5 482.3 L699.7 484.0 L698.8 490.7 L696.3 498.2 L693.0 499.0 L691.3 492.3 L688.8 485.7 L685.5 483.2Z M678.3 439.8 L683.0 436.0 L689.7 436.5 L691.3 440.7 L687.2 444.8 L681.3 445.3Z M666.3 433.5 L673.0 433.5 L671.7 437.0 L668.0 437.3Z M698.3 451.5 L700.5 449.8 L702.2 452.7 L700.0 455.7Z M545.0 69.0 L580.0 69.0 L580.0 74.0 L545.0 74.0Z" fill="#4169e1" stroke="#4169e1" stroke-width="0.6" stroke-linejoin="round"/>
<path d="M123.8 69.5 L253.5 69.5 L253.5 159.2 L248.8 160.0 L244.7 162.5 L241.3 167.5 L237.2 169.2 L231.3 165.8 L224.7 162.5 L219.7 160.0 L219.7 155.0 L218.0 148.3 L213.0 143.3 L206.3 140.8 L203.0 135.8 L202.2 128.3 L198.8 121.7 L194.7 115.0 L192.2 110.0 L186.3 110.8 L179.7 110.0 L173.0 107.5 L166.3 104.2 L159.7 100.8 L153.0 97.5 L147.2 91.7 L141.3 88.3 L135.5 85.8 L130.5 80.8 L126.3 75.0Z M252.5 69.5 L403.5 69.5 L403.5 200.5 L283.0 200.5 L280.5 194.2 L275.5 188.3 L269.7 183.3 L264.7 176.7 L260.5 170.0 L257.2 165.0 L252.5 163.3Z M403.5 199.5 L403.5 330.5 L319.7 330.5 L318.0 323.3 L315.5 316.7 L313.0 310.8 L309.7 306.7 L304.7 304.2 L300.5 305.0 L295.5 302.5 L294.7 298.3 L298.0 296.7 L301.3 298.3 L306.3 300.0 L311.3 296.7 L309.7 291.7 L304.7 286.7 L299.7 281.7 L297.2 276.7 L298.8 271.7 L299.7 265.0 L297.7 258.3 L298.8 251.7 L300.5 245.0 L298.8 239.2 L293.8 235.8 L288.8 231.7 L285.5 225.0 L286.3 218.3 L288.0 211.7 L287.2 205.0 L285.5 199.5Z M402.5 173.5 L459.7 173.5 L461.3 179.0 L464.7 184.0 L471.3 187.3 L478.0 189.8 L486.3 190.7 L493.0 193.2 L499.7 197.3 L503.0 204.0 L503.0 210.7 L499.7 217.3 L495.5 222.3 L493.0 229.0 L488.0 233.2 L483.0 231.5 L478.0 227.3 L471.3 224.8 L464.7 222.3 L459.7 220.7 L456.3 224.0 L459.7 229.0 L461.3 234.8 L458.0 238.2 L451.3 238.2 L444.7 236.5 L439.7 238.2 L434.7 235.7 L432.2 230.7 L431.3 224.0 L429.7 219.0 L424.7 217.7 L420.5 219.8 L419.7 225.7 L418.8 230.7 L414.7 232.3 L409.7 231.5 L404.7 233.2 L402.5 233.7Z M453.3 254.8 L457.2 253.2 L461.3 255.3 L459.7 258.2 L455.0 258.2Z M416.0 246.5 L418.0 245.7 L419.7 251.5 L418.8 255.7 L416.7 253.2Z M663.0 304.5 L664.7 299.0 L669.7 295.7 L676.3 294.0 L681.3 289.0 L684.7 284.0 L689.7 285.7 L694.7 289.0 L696.3 294.0 L694.7 299.0 L698.0 304.5Z M733.0 275.7 L741.3 272.3 L749.7 267.3 L758.0 264.0 L766.3 264.8 L773.0 260.7 L776.3 254.0 L783.0 250.7 L789.7 245.7 L792.2 239.0 L794.7 235.7 L798.8 238.2 L803.0 242.3 L809.7 244.0 L816.3 240.7 L821.3 235.7 L823.5 234.0 L823.5 304.5 L726.3 304.5 L728.0 297.3 L731.3 290.7 L734.7 282.3Z M705.5 274.0 L709.7 269.8 L716.3 268.2 L723.0 269.8 L725.5 275.7 L721.3 281.5 L714.7 283.2 L708.8 280.7Z M702.5 298.2 L708.0 297.3 L713.0 300.7 L713.8 304.5 L702.5 304.5Z M348.8 329.5 L351.3 335.0 L353.0 340.0 L356.3 345.0 L361.3 350.0 L363.8 355.0 L361.3 358.3 L354.7 356.7 L349.7 351.7 L346.3 346.7 L344.7 341.7 L339.7 338.3 L334.7 335.0 L331.3 329.5Z M703.5 303.5 L703.5 400.7 L701.3 397.3 L699.7 389.0 L694.7 382.3 L688.0 377.3 L679.7 374.0 L671.3 374.0 L663.0 370.7 L654.7 367.3 L646.3 364.8 L639.7 360.7 L638.0 354.0 L641.3 345.7 L638.8 337.3 L639.7 329.0 L643.0 319.0 L643.8 310.7 L643.0 303.5Z M573.8 324.8 L578.0 320.7 L584.7 317.3 L589.7 313.2 L594.7 311.5 L597.2 314.8 L593.0 319.8 L586.3 323.2 L579.7 326.5 L574.7 327.0Z M702.5 303.5 L823.5 303.5 L823.5 434.5 L702.5 434.5Z M793.8 440.7 L796.3 434.8 L803.0 433.5 L813.8 433.5 L813.0 440.7 L809.7 447.3 L803.8 445.7 L798.0 446.5Z M785.8 452.3 L788.8 450.7 L791.3 453.7 L789.3 456.5 L786.3 455.7Z M800.5 474.0 L803.8 471.5 L808.8 474.0 L809.7 478.2 L805.5 479.8 L801.3 478.2Z M818.0 437.3 L823.5 434.0 L823.5 449.8 L819.7 448.2Z M400.0 69.0 L545.0 69.0 L545.0 74.0 L400.0 74.0Z" fill="#0000cd" stroke="#0000cd" stroke-width="0.6" stroke-linejoin="round"/>
<path d="M128.0 69.5 L253.5 69.5 L253.5 159.2 L250.5 156.7 L246.3 151.7 L243.0 146.7 L238.0 143.3 L231.3 144.2 L224.7 143.3 L220.5 140.0 L218.0 134.2 L213.0 129.2 L208.0 124.2 L203.0 119.2 L198.0 113.3 L193.8 107.5 L189.7 107.0 L183.3 107.0 L177.2 104.2 L170.5 100.8 L164.3 97.5 L158.0 93.3 L151.3 88.0 L144.7 84.2 L138.8 79.7 L133.8 75.0Z M252.5 74.2 L258.0 76.7 L264.7 80.0 L271.3 84.2 L278.0 86.7 L284.7 90.0 L289.7 95.0 L296.3 98.3 L303.0 100.8 L309.7 105.8 L316.3 108.3 L324.7 109.2 L331.3 105.8 L334.7 103.3 L336.3 109.2 L333.8 115.0 L333.0 121.7 L338.0 125.0 L343.8 128.3 L344.7 136.7 L349.7 140.0 L354.7 141.7 L353.0 150.0 L355.5 153.3 L361.3 156.7 L359.7 161.7 L353.8 166.7 L346.3 168.7 L339.7 168.0 L334.7 164.2 L331.3 159.2 L328.8 154.2 L324.7 153.3 L322.2 157.5 L324.7 163.3 L328.8 168.3 L331.3 173.3 L336.3 178.3 L343.0 180.8 L339.7 186.7 L336.3 185.0 L331.3 186.7 L328.8 193.3 L329.7 200.5 L288.0 200.5 L286.3 195.0 L283.0 190.0 L278.0 185.0 L271.3 180.0 L266.3 174.2 L261.3 166.7 L258.0 160.8 L252.5 159.2Z M372.2 105.8 L376.3 95.0 L381.3 93.3 L386.3 98.3 L391.3 103.3 L394.7 108.3 L396.0 110.0 L403.5 110.0 L403.5 200.5 L386.3 200.5 L386.3 196.7 L384.7 191.7 L379.7 186.7 L374.7 183.3 L371.3 178.3 L369.7 174.2 L368.0 168.3 L363.0 163.3 L362.2 156.7 L368.0 153.3 L376.3 148.3 L380.5 140.8 L381.7 133.3 L380.0 126.7 L386.3 125.0 L393.0 118.3 L391.7 112.5 L384.7 111.7 L376.3 110.8Z M277.2 74.2 L283.0 72.5 L288.0 76.7 L288.8 81.7 L284.7 84.2 L279.7 83.3 L276.7 80.0Z M292.2 77.5 L296.3 75.0 L301.3 80.0 L308.0 78.3 L314.7 74.2 L319.7 76.7 L321.3 83.3 L317.2 85.8 L311.3 88.3 L304.7 85.8 L299.7 83.3 L294.7 82.5Z M331.3 91.7 L333.8 86.7 L337.2 90.0 L339.7 95.0 L338.0 100.0 L333.0 101.3 L330.8 96.7Z M340.5 95.0 L344.7 92.5 L348.0 94.2 L345.5 97.5 L341.3 98.0Z M356.7 72.5 L360.5 70.8 L364.3 72.5 L363.0 77.0 L358.0 77.5Z M367.2 81.7 L370.5 77.5 L376.3 75.0 L378.8 77.5 L374.7 82.5 L369.7 85.0Z M348.0 118.3 L352.2 115.8 L357.7 117.5 L356.3 120.5 L351.3 121.3Z M341.3 182.5 L344.7 178.7 L349.3 180.0 L349.7 185.0 L345.5 187.0 L342.2 185.8Z M290.5 199.5 L343.0 199.5 L346.3 205.0 L351.3 210.0 L353.0 216.7 L348.0 221.7 L343.0 225.0 L340.5 233.3 L341.3 241.7 L344.7 250.0 L348.8 255.0 L354.7 256.7 L361.3 253.3 L366.3 248.3 L369.7 243.3 L374.7 238.3 L381.3 236.7 L384.7 240.0 L379.7 245.0 L373.0 248.3 L368.0 251.7 L364.7 256.7 L359.7 260.0 L354.7 261.7 L351.3 265.0 L346.3 266.7 L341.3 270.0 L336.3 273.3 L331.3 278.3 L328.0 283.3 L331.3 290.0 L334.7 296.7 L338.0 303.3 L341.3 310.0 L343.8 316.7 L346.3 323.3 L348.0 330.5 L331.3 330.5 L328.0 323.3 L324.7 316.7 L321.3 310.0 L318.8 303.3 L317.2 296.7 L316.3 290.0 L315.5 284.2 L312.2 280.0 L308.0 275.0 L304.7 270.0 L303.8 263.3 L303.0 256.7 L304.7 250.0 L306.3 244.2 L303.8 239.2 L298.8 235.8 L293.8 232.5 L290.5 226.7 L289.7 220.0 L290.5 213.3 L291.3 206.7Z M384.7 199.5 L403.5 199.5 L403.5 218.3 L399.7 220.0 L394.7 216.7 L389.7 211.7 L386.3 206.7Z M402.5 201.5 L408.0 202.3 L413.0 204.8 L417.2 200.7 L418.0 194.0 L417.2 187.3 L418.8 180.7 L423.0 176.5 L429.7 175.7 L436.3 176.5 L444.7 175.7 L451.3 177.3 L455.5 182.3 L456.3 189.0 L459.7 192.3 L466.3 191.5 L473.0 193.2 L479.7 192.3 L486.3 194.8 L493.0 197.3 L498.8 201.5 L501.3 207.3 L500.5 213.2 L496.3 219.0 L491.3 223.2 L486.3 222.3 L481.3 224.0 L476.3 222.3 L469.7 221.5 L463.0 219.0 L458.0 215.7 L453.0 213.2 L448.0 211.5 L443.0 213.2 L438.8 217.3 L434.7 219.0 L429.7 215.7 L424.7 212.3 L419.7 209.8 L415.5 211.5 L413.0 217.3 L409.7 220.7 L404.7 219.8 L402.5 219.8Z M436.3 231.5 L438.8 229.8 L442.7 231.5 L442.2 237.3 L438.0 238.2Z M666.3 304.5 L669.7 299.0 L676.3 297.3 L681.3 298.2 L684.7 294.0 L686.3 289.8 L690.5 289.0 L693.0 292.3 L691.3 297.3 L686.3 300.7 L684.7 304.5Z M743.0 274.0 L751.3 270.3 L759.7 269.0 L769.7 271.0 L776.3 273.2 L783.0 272.3 L789.7 269.0 L796.3 264.8 L803.0 259.0 L809.7 254.0 L816.3 249.8 L823.5 247.3 L823.5 294.8 L816.3 293.2 L809.7 290.7 L803.0 289.0 L796.3 289.8 L789.7 289.0 L783.0 290.7 L776.3 292.3 L769.7 293.2 L763.0 290.7 L756.3 287.3 L751.3 284.0 L746.3 279.0Z M779.7 264.8 L784.7 259.8 L791.3 257.0 L797.2 258.2 L796.3 262.3 L791.3 267.3 L785.5 270.3 L780.5 269.0Z M801.3 304.5 L806.3 301.5 L816.3 300.7 L823.5 301.5 L823.5 304.5Z M346.0 329.5 L345.5 330.8 L343.0 334.2 L338.8 333.3 L336.3 329.5Z M661.3 352.3 L664.7 345.7 L669.7 341.5 L673.0 337.3 L678.0 339.8 L684.7 341.5 L691.3 344.0 L696.3 349.0 L698.0 355.7 L694.7 361.5 L688.0 364.0 L681.3 366.5 L674.7 367.3 L668.0 364.0 L663.0 359.0Z M668.8 303.5 L679.7 303.5 L681.3 309.0 L678.0 314.0 L673.0 312.3 L669.7 308.2Z M684.7 320.7 L689.7 315.7 L698.0 314.8 L703.5 317.3 L703.5 320.7 L696.3 322.3 L693.0 329.0 L688.0 333.2 L685.5 327.3Z M649.3 324.8 L653.0 322.0 L659.7 320.7 L661.3 323.2 L656.3 327.3 L651.3 329.8Z M666.3 319.8 L670.5 316.5 L675.5 318.2 L674.7 323.2 L669.7 324.8Z M646.0 343.2 L649.7 339.8 L653.0 343.2 L651.3 349.0 L647.2 348.2Z M698.0 367.3 L703.5 360.7 L703.5 370.7 L699.7 371.5Z M688.0 303.5 L703.5 303.5 L703.5 309.0 L696.3 311.5 L691.3 308.2Z M702.5 303.5 L711.3 303.5 L713.0 309.0 L719.7 309.8 L729.7 309.0 L739.7 310.7 L746.3 313.2 L741.3 315.7 L733.0 316.5 L724.7 319.0 L719.7 324.0 L713.0 325.7 L706.3 324.8 L702.5 322.3Z M761.7 310.7 L766.3 307.3 L773.0 307.0 L778.0 310.7 L774.7 314.8 L768.0 314.3 L763.3 313.2Z M705.0 344.0 L708.8 339.3 L713.8 340.3 L716.0 345.7 L713.0 350.7 L708.0 351.5 L705.0 348.2Z M728.3 343.2 L731.3 341.5 L733.0 345.7 L731.3 349.8 L728.8 347.3Z M745.0 360.7 L748.8 357.7 L753.8 358.7 L756.3 362.3 L753.0 366.0 L747.7 366.0Z M764.3 370.7 L768.0 368.5 L772.2 369.8 L772.7 374.0 L768.8 376.0 L765.0 374.8Z M702.5 359.0 L708.0 356.0 L714.7 358.2 L721.3 363.2 L726.3 369.0 L728.8 375.7 L728.0 382.3 L732.2 380.7 L738.8 379.8 L744.7 382.3 L742.2 387.3 L740.5 394.0 L743.0 400.7 L743.8 407.3 L742.2 413.2 L737.2 410.7 L734.7 404.0 L732.2 397.3 L729.7 390.7 L726.3 387.3 L721.3 386.5 L718.0 390.7 L719.7 397.3 L722.2 402.3 L719.7 405.7 L714.7 402.3 L710.5 397.3 L706.3 394.0 L704.7 389.0 L709.7 385.7 L715.5 384.0 L713.0 379.0 L708.0 375.7 L703.8 370.7 L702.5 369.8Z M757.7 389.8 L761.3 386.8 L766.3 388.2 L768.3 392.3 L764.7 396.0 L759.7 394.8Z M774.3 403.7 L777.2 402.3 L780.5 405.7 L778.8 408.2 L775.5 407.0Z" fill="#882bea" stroke="#882bea" stroke-width="0.6" stroke-linejoin="round"/>
<path d="M303.0 163.3 L306.3 156.7 L311.3 155.8 L315.5 161.7 L318.0 168.3 L321.3 173.3 L319.7 178.3 L314.7 180.8 L309.7 181.7 L306.3 186.7 L303.0 191.7 L296.3 192.5 L290.5 190.0 L288.8 185.0 L291.3 180.0 L297.2 177.5 L301.3 173.3Z M306.3 248.3 L311.3 240.0 L318.0 237.5 L323.0 241.7 L323.8 248.3 L328.0 250.0 L333.0 253.3 L334.7 260.0 L333.8 266.7 L331.3 270.0 L326.3 269.2 L323.0 271.7 L319.7 273.3 L314.7 270.0 L311.3 265.0 L308.0 258.3 L305.5 253.3Z M335.0 215.8 L338.0 213.3 L341.3 217.5 L341.0 223.3 L337.2 225.0 L334.7 220.8Z M435.8 199.0 L439.7 197.0 L443.8 199.0 L443.0 202.0 L438.0 202.7Z" fill="#0000cd" stroke="#0000cd" stroke-width="0.6" stroke-linejoin="round"/>
<path d="M305.0 172.0 L308.8 170.8 L313.8 174.2 L313.0 177.5 L308.0 176.7Z M293.0 184.2 L295.5 182.8 L297.5 185.0 L295.0 187.0Z M303.0 90.0 L307.2 91.7 L314.7 95.0 L323.0 97.5 L328.0 100.0 L328.8 103.3 L323.0 102.5 L316.3 100.0 L309.7 97.5 L304.7 95.0Z M346.3 105.8 L353.0 105.0 L358.0 109.2 L359.7 112.5 L354.7 113.3 L350.5 110.0Z M362.2 138.3 L363.8 131.7 L367.2 128.7 L370.5 131.7 L372.2 138.3 L369.7 143.3 L364.7 145.0 L361.7 142.5Z M343.0 193.3 L348.0 191.7 L354.7 194.2 L361.3 197.5 L362.2 200.5 L346.3 200.5Z M392.7 85.8 L396.0 85.0 L396.0 95.0 L393.3 93.3Z M353.0 210.0 L359.7 206.7 L366.3 208.3 L373.0 213.3 L379.7 218.3 L386.3 223.3 L391.3 228.3 L393.0 233.3 L388.0 235.8 L381.3 233.3 L374.7 230.0 L368.0 226.7 L361.3 223.3 L355.5 218.3Z M369.7 255.0 L373.0 250.0 L379.7 247.5 L386.3 245.8 L389.7 241.7 L394.7 239.2 L403.5 238.3 L403.5 293.3 L399.7 290.0 L394.7 286.7 L389.7 283.3 L384.7 281.7 L379.7 278.3 L375.5 273.3 L371.3 266.7 L369.7 260.8Z M339.7 306.7 L343.8 298.3 L353.0 295.8 L361.3 298.3 L369.7 301.7 L378.0 300.0 L384.7 303.3 L391.3 306.7 L398.0 308.3 L403.5 306.7 L403.5 330.5 L346.3 330.5 L343.0 323.3 L340.5 315.0Z M778.0 304.5 L781.3 299.8 L788.0 298.2 L794.7 299.8 L797.2 304.5Z M751.3 337.3 L754.7 333.2 L761.3 331.5 L767.2 334.8 L773.0 339.8 L779.7 344.8 L786.3 348.2 L793.8 349.8 L795.5 345.7 L793.0 339.8 L788.8 333.2 L787.2 326.5 L791.3 321.5 L798.0 318.2 L804.7 317.3 L809.7 322.3 L813.0 330.7 L816.3 339.0 L819.7 347.3 L821.7 354.0 L821.7 370.7 L823.5 374.0 L823.5 410.7 L818.8 411.5 L813.0 409.8 L804.7 410.7 L800.5 414.0 L799.7 424.0 L801.3 434.5 L776.3 434.5 L778.0 427.3 L786.3 420.7 L791.3 414.0 L786.3 405.7 L779.7 399.0 L773.0 392.3 L766.3 387.3 L759.7 384.0 L751.3 382.3 L745.5 379.8 L746.3 375.7 L753.0 377.3 L761.3 379.0 L769.7 380.7 L778.0 379.8 L783.0 375.7 L788.0 373.2 L786.3 370.7 L779.7 368.2 L773.0 365.7 L766.3 362.3 L761.3 357.3 L756.3 350.7 L752.2 344.0Z M702.5 399.8 L709.7 404.0 L716.3 410.7 L723.0 419.0 L728.0 424.0 L723.0 429.0 L726.3 434.5 L702.5 434.5Z M743.0 419.0 L748.0 410.7 L753.0 405.7 L759.7 404.0 L764.7 407.3 L761.3 412.3 L759.7 419.0 L760.5 427.3 L761.3 434.5 L729.7 434.5 L734.7 427.3Z M814.3 320.7 L817.2 316.0 L820.5 319.0 L820.5 327.3 L817.2 330.3 L814.3 326.5Z M781.3 303.5 L796.3 303.5 L793.8 307.3 L786.3 308.2Z M672.2 400.0 L704.0 400.0 L704.0 438.0 L693.0 435.8 L681.2 429.8 L675.2 417.9Z M343.0 192.7 L348.3 191.3 L356.3 194.0 L363.0 196.7 L369.7 203.3 L375.0 210.0 L380.3 216.7 L385.7 222.0 L391.0 224.7 L396.3 222.0 L401.7 224.7 L403.7 230.0 L401.7 235.3 L396.3 236.7 L391.0 235.3 L385.7 232.7 L377.7 227.3 L369.7 222.0 L361.7 216.7 L356.3 211.3 L352.3 206.0 L348.3 200.7 L344.3 196.7Z" fill="#4169e1" stroke="#4169e1" stroke-width="0.6" stroke-linejoin="round"/>
<path d="M368.0 118.3 L370.5 117.8 L371.7 119.7 L369.3 121.0Z M312.7 245.0 L316.0 242.5 L319.3 245.8 L319.7 251.7 L317.2 257.5 L313.8 258.3 L312.2 253.3Z M325.0 252.5 L328.8 250.8 L332.2 254.2 L333.3 261.7 L332.7 267.5 L328.8 268.3 L326.3 263.3 L325.0 257.5Z M391.3 235.8 L396.3 234.2 L403.5 233.3 L403.5 293.3 L398.0 288.3 L393.0 283.3 L388.0 280.0 L383.0 276.7 L378.8 271.7 L377.2 266.7 L379.7 261.7 L384.7 258.3 L388.8 255.0 L389.7 248.3 L388.8 241.7Z M343.8 306.7 L346.3 301.7 L353.0 300.0 L359.7 303.3 L366.3 306.7 L373.0 308.3 L379.7 306.7 L383.0 310.0 L381.3 316.7 L376.3 320.0 L369.7 319.2 L363.0 316.7 L356.3 315.0 L349.7 316.7 L344.7 315.0Z M396.3 315.0 L403.5 310.0 L403.5 330.5 L394.7 330.5Z M424.7 239.0 L428.0 238.2 L430.5 244.0 L432.2 250.7 L430.5 254.0 L427.2 252.3 L425.5 245.7Z M416.3 269.8 L423.0 268.2 L429.7 269.0 L436.3 270.7 L438.8 274.0 L433.0 276.0 L424.7 275.3 L418.0 274.0Z M438.8 254.0 L443.0 252.3 L446.7 257.3 L447.2 264.0 L444.7 269.8 L441.0 272.3 L438.8 265.7Z M611.0 314.8 L615.5 311.5 L620.5 314.0 L621.3 319.8 L617.2 322.3 L612.2 320.7Z M618.0 324.0 L624.7 319.8 L633.0 320.7 L638.0 325.7 L637.2 333.2 L633.0 338.2 L626.3 337.3 L620.5 334.0 L617.7 329.0Z M616.3 303.5 L646.3 303.5 L643.0 309.0 L634.7 311.5 L626.3 309.8 L619.7 306.5Z M797.2 403.2 L803.0 399.0 L808.0 394.8 L813.0 390.7 L819.7 388.7 L823.5 388.2 L823.5 408.2 L818.0 409.0 L811.3 408.2 L804.7 406.5Z M747.7 410.7 L751.3 406.0 L755.5 408.2 L757.2 415.7 L756.3 423.2 L751.3 424.3 L748.3 419.0Z M773.8 425.7 L778.0 421.5 L784.7 422.3 L791.3 426.5 L793.8 431.5 L791.3 434.5 L775.5 434.5Z M702.5 427.3 L708.0 423.2 L713.8 421.5 L715.5 425.7 L711.3 430.7 L708.0 434.5 L702.5 434.5Z M763.8 382.3 L767.2 381.0 L770.0 383.7 L768.3 386.3 L764.7 385.7Z M770.5 387.3 L776.3 384.5 L782.5 384.5 L783.8 390.2 L780.5 396.0 L774.3 396.5 L771.0 392.7Z" fill="#05bdfb" stroke="#05bdfb" stroke-width="0.6" stroke-linejoin="round"/>
<path d="M378.8 266.7 L384.7 264.2 L391.3 265.8 L396.3 270.0 L394.7 275.0 L388.8 277.5 L383.0 275.8 L379.3 271.7Z M389.7 237.5 L394.7 235.3 L399.7 237.5 L398.8 241.7 L393.0 243.7 L389.7 241.7Z M359.7 326.7 L364.7 322.5 L373.0 321.3 L381.3 323.3 L382.2 330.5 L359.7 330.5Z M525.0 191.5 L529.7 189.8 L534.7 193.2 L533.0 196.5 L528.0 195.7Z M599.3 229.0 L603.0 226.5 L607.2 229.8 L605.5 233.2 L601.0 232.3Z M393.8 371.7 L398.0 369.5 L403.5 370.0 L403.5 375.3 L397.2 375.8Z M603.0 370.7 L609.7 366.5 L618.0 364.3 L623.0 367.3 L627.2 373.2 L632.2 378.2 L638.8 383.2 L643.8 388.2 L648.8 393.2 L655.5 397.3 L659.7 400.3 L657.2 402.3 L649.7 398.2 L643.0 394.3 L636.3 392.0 L629.7 390.3 L623.0 388.7 L616.3 386.0 L608.0 384.3 L600.5 383.7 L598.0 377.3Z M668.0 415.7 L673.0 417.7 L679.7 421.0 L687.2 423.7 L684.7 427.3 L678.0 427.0 L672.2 428.2 L667.2 430.7 L663.0 427.3 L664.7 420.7Z M772.2 388.5 L776.7 386.2 L781.0 386.0 L782.0 390.0 L779.3 394.3 L775.0 394.8 L772.7 392.0Z M749.7 412.3 L752.2 409.0 L754.7 411.5 L755.5 417.3 L753.0 420.7 L750.2 418.2Z M687.5 453.2 L690.5 450.7 L693.3 453.2 L692.2 457.3 L688.3 457.7Z" fill="#a6d4fa" stroke="#a6d4fa" stroke-width="0.6" stroke-linejoin="round"/>
<path d="M623.0 296.5 L626.3 294.3 L630.5 295.7 L631.0 299.3 L627.2 301.0 L623.8 299.8Z M651.0 296.5 L655.5 294.8 L659.7 297.0 L658.8 300.3 L653.8 301.0 L651.3 299.0Z M688.8 282.3 L693.8 280.7 L698.8 281.5 L698.0 284.8 L693.0 286.0 L689.3 284.8Z M686.3 246.5 L690.0 245.7 L690.7 250.7 L688.0 252.3 L686.3 249.8Z M751.3 419.0 L753.5 416.5 L755.5 419.0 L755.0 423.7 L752.2 424.0Z M777.5 431.5 L780.5 428.2 L784.7 429.8 L786.3 434.5 L778.0 434.5Z M778.3 433.5 L788.0 433.5 L787.2 438.2 L783.0 440.7 L779.3 438.2Z" fill="#bebebe" stroke="#bebebe" stroke-width="0.6" stroke-linejoin="round"/>
<path d="M574.7 282.3 L578.0 279.8 L584.7 276.5 L591.3 272.3 L598.0 267.3 L603.0 262.3 L607.2 256.5 L611.3 253.2 L618.0 251.5 L624.7 252.3 L629.7 249.0 L636.3 247.3 L643.0 247.3 L649.7 248.2 L653.0 251.5 L657.2 253.2 L663.0 252.3 L669.7 251.5 L673.0 252.3 L677.2 255.7 L681.3 259.0 L686.3 262.3 L691.3 264.8 L697.2 265.7 L694.7 268.2 L686.3 269.0 L679.7 270.7 L673.0 272.3 L668.0 274.0 L664.7 277.3 L668.0 280.7 L673.0 282.3 L676.3 284.8 L674.7 287.3 L668.0 286.5 L659.7 285.7 L651.3 285.3 L643.0 285.7 L634.7 286.5 L628.0 288.2 L623.0 290.7 L618.0 289.0 L611.3 289.0 L604.7 287.3 L599.7 282.3 L595.5 282.3 L591.3 284.0 L584.7 284.0 L578.0 284.8Z M552.5 274.0 L559.7 273.7 L568.0 272.7 L573.8 272.3 L577.7 274.0 L575.5 277.3 L569.7 279.8 L563.0 282.3 L556.3 285.7 L552.5 288.2Z M317.2 362.5 L321.3 360.8 L326.3 362.5 L331.3 360.8 L334.7 365.0 L333.0 370.0 L328.0 368.7 L323.0 369.7 L318.8 368.0Z M406.3 348.2 L411.3 346.5 L417.2 347.7 L420.5 351.5 L419.7 355.7 L415.5 358.2 L412.2 356.5 L409.7 359.0 L407.2 355.7 L405.5 351.5Z M402.5 404.8 L409.7 405.7 L416.3 408.2 L421.3 412.3 L420.5 417.3 L414.7 419.0 L408.0 417.3 L402.5 416.5Z M418.8 434.5 L417.2 427.3 L418.8 422.3 L424.7 420.7 L431.3 421.0 L438.0 422.7 L443.0 426.5 L447.2 430.7 L452.2 434.5Z" fill="#ffffff" stroke="#ffffff" stroke-width="0.6" stroke-linejoin="round"/>
<path d="M616.0 280.7 L619.7 277.3 L624.7 277.0 L628.8 279.8 L629.7 284.0 L626.3 287.3 L621.3 289.0 L617.2 285.7Z M608.8 272.3 L612.2 269.3 L616.7 270.3 L617.2 273.7 L613.0 275.7 L609.7 274.8Z" fill="#a6d4fa" stroke="#a6d4fa" stroke-width="0.6" stroke-linejoin="round"/>
<path d="M618.8 280.7 L623.0 279.0 L626.3 281.5 L624.7 284.8 L620.5 285.3Z" fill="#05bdfb" stroke="#05bdfb" stroke-width="0.6" stroke-linejoin="round"/>
<path d="M378.0 298.3 L383.0 295.8 L389.7 298.3 L394.7 303.3 L393.0 310.0 L386.3 313.3 L381.3 311.7 L378.8 305.0Z M758.8 415.7 L763.0 411.5 L768.8 412.3 L773.0 419.0 L774.7 427.3 L773.8 434.5 L762.2 434.5 L760.5 425.7Z M796.3 389.0 L798.8 388.2 L800.5 390.7 L798.8 393.2 L796.3 392.0Z" fill="#0000cd" stroke="#0000cd" stroke-width="0.6" stroke-linejoin="round"/>
<path d="M352.7 228.3 L355.0 227.5 L356.3 232.5 L355.0 237.5 L352.7 235.8Z M362.2 272.5 L365.5 270.0 L369.3 272.5 L369.3 277.5 L366.0 280.3 L362.5 278.3Z M381.7 300.0 L385.5 299.2 L388.0 302.5 L385.5 306.7 L382.2 305.0Z" fill="#882bea" stroke="#882bea" stroke-width="0.6" stroke-linejoin="round"/>
<clipPath id="ovc1"><rect x="328.0" y="290.0" width="102.0" height="130.0"/></clipPath>
<g clip-path="url(#ovc1)">
<path d="M327.5 289.5 L431.3 289.5 L431.3 420.5 L327.5 420.5Z" fill="#bebebe" stroke="#bebebe" stroke-width="0.5"/>
<path d="M430.5 289.5 L430.5 350.8 L424.7 345.0 L419.7 338.3 L414.7 330.0 L409.7 321.7 L405.5 313.3 L401.3 305.0 L398.0 296.7 L394.7 289.5Z" fill="#ffffff" stroke="#ffffff" stroke-width="0.5"/>
<path d="M327.5 289.5 L394.7 289.5 L398.0 296.7 L401.3 305.0 L405.5 313.3 L409.7 321.7 L414.7 330.0 L419.7 338.3 L422.2 343.3 L421.3 347.5 L414.7 345.8 L408.8 346.7 L405.5 349.2 L405.5 352.5 L407.2 355.8 L410.5 358.3 L413.0 355.8 L416.3 358.3 L413.8 361.7 L411.3 365.8 L406.3 369.2 L401.3 370.0 L396.3 371.7 L394.7 373.3 L399.7 375.0 L406.3 374.2 L411.3 376.7 L416.3 381.7 L421.3 386.7 L426.3 390.0 L430.5 391.7 L430.5 398.3 L424.7 400.0 L418.0 400.8 L411.3 403.3 L403.0 402.0 L394.7 398.7 L386.3 397.0 L378.0 396.2 L369.7 393.7 L363.8 390.3 L358.0 385.3 L353.0 380.3 L348.8 375.3 L349.7 370.3 L346.3 365.3 L341.3 360.3 L336.3 353.7 L333.0 348.7 L327.5 347.8Z" fill="#a6d4fa" stroke="#a6d4fa" stroke-width="0.5"/>
<path d="M414.7 368.3 L421.3 365.8 L428.0 364.2 L430.5 365.0 L430.5 385.8 L428.0 383.3 L423.0 378.3 L418.0 375.0 L413.0 371.7Z" fill="#a6d4fa" stroke="#a6d4fa" stroke-width="0.5"/>
<path d="M327.5 289.5 L394.7 289.5 L397.7 296.7 L401.0 305.0 L405.0 313.3 L409.2 321.7 L413.8 330.0 L418.0 337.5 L414.7 340.0 L409.7 338.3 L406.3 331.7 L401.3 326.7 L394.7 322.5 L388.0 320.8 L381.3 323.3 L374.7 325.8 L368.0 325.0 L361.3 324.2 L355.5 325.8 L354.7 331.7 L357.2 338.3 L361.3 343.3 L368.0 348.3 L374.7 353.3 L379.7 355.0 L383.8 351.7 L388.0 352.5 L394.7 354.2 L401.3 355.8 L406.3 358.3 L408.0 363.3 L404.7 367.5 L399.7 369.2 L394.7 370.0 L391.3 372.5 L396.3 376.7 L403.0 380.0 L408.0 385.0 L411.3 391.7 L412.2 398.3 L408.0 400.8 L401.3 398.3 L394.7 394.2 L388.0 391.7 L381.3 390.8 L374.7 390.0 L368.0 388.3 L363.0 385.0 L358.0 380.0 L353.0 374.2 L351.3 368.3 L347.2 363.3 L343.0 357.5 L338.0 351.7 L333.8 347.5 L327.5 346.7Z" fill="#05bdfb" stroke="#05bdfb" stroke-width="0.5"/>
<path d="M327.5 289.5 L383.0 289.5 L386.3 296.7 L392.2 305.0 L396.3 311.7 L401.3 318.3 L403.0 323.3 L398.0 322.5 L393.0 318.3 L386.3 315.0 L379.7 313.3 L373.0 315.0 L368.0 318.3 L363.0 321.7 L356.3 323.3 L351.3 320.8 L346.3 319.2 L343.8 313.3 L327.5 313.3Z" fill="#4169e1" stroke="#4169e1" stroke-width="0.5"/>
<path d="M344.7 306.7 L349.7 302.5 L356.3 301.7 L363.0 304.2 L367.2 309.2 L363.8 315.0 L358.0 317.5 L351.3 316.7 L346.3 313.3Z" fill="#05bdfb" stroke="#05bdfb" stroke-width="0.5"/>
<path d="M334.7 313.3 L343.8 313.3 L347.2 323.3 L347.2 333.3 L349.7 341.7 L355.5 348.3 L361.3 355.8 L367.2 363.3 L368.8 370.0 L372.2 376.7 L378.0 380.8 L384.7 380.0 L386.7 375.0 L383.0 370.0 L376.3 368.3 L370.5 365.8 L367.2 360.0 L361.3 353.3 L354.7 346.7 L348.0 343.3 L342.2 340.0 L338.0 333.3 L335.5 323.3Z" fill="#4169e1" stroke="#4169e1" stroke-width="0.5"/>
<path d="M392.2 360.0 L395.5 356.7 L400.5 358.3 L401.3 363.3 L397.2 365.8 L393.3 364.2Z" fill="#4169e1" stroke="#4169e1" stroke-width="0.5"/>
<path d="M388.3 387.5 L392.2 384.7 L398.0 385.8 L398.8 389.7 L393.8 391.3 L389.3 390.3Z" fill="#4169e1" stroke="#4169e1" stroke-width="0.5"/>
<path d="M410.8 338.3 L413.3 335.3 L416.3 338.3 L415.5 343.0 L412.2 343.3Z" fill="#4169e1" stroke="#4169e1" stroke-width="0.5"/>
<path d="M345.5 343.3 L348.8 339.7 L354.7 341.7 L359.7 346.7 L363.8 352.5 L364.3 357.5 L360.5 358.3 L355.5 354.2 L350.5 350.0 L346.3 347.5Z" fill="#0000cd" stroke="#0000cd" stroke-width="0.5"/>
<path d="M327.5 289.5 L338.0 289.5 L343.0 296.7 L346.3 305.0 L345.5 313.3 L343.8 323.3 L344.7 333.3 L343.0 338.3 L338.0 336.7 L333.0 331.7 L329.7 323.3 L327.5 320.0Z" fill="#0000cd" stroke="#0000cd" stroke-width="0.5"/>
<path d="M377.2 301.7 L381.3 296.7 L386.3 295.8 L390.5 300.0 L393.0 306.7 L391.3 312.5 L386.3 311.7 L381.3 308.3 L378.0 305.8Z" fill="#0000cd" stroke="#0000cd" stroke-width="0.5"/>
<path d="M362.2 313.3 L364.7 310.3 L367.7 312.5 L367.2 317.5 L363.3 318.0Z" fill="#0000cd" stroke="#0000cd" stroke-width="0.5"/>
<path d="M327.5 296.7 L331.3 300.0 L336.3 308.3 L339.7 316.7 L342.2 325.0 L343.8 331.7 L341.3 335.0 L337.2 332.5 L333.0 326.7 L329.7 320.0 L327.5 316.7Z" fill="#882bea" stroke="#882bea" stroke-width="0.5"/>
<path d="M381.7 302.5 L384.7 299.5 L388.3 301.7 L388.0 305.8 L383.8 306.7Z" fill="#882bea" stroke="#882bea" stroke-width="0.5"/>
<path d="M405.5 349.2 L408.8 346.7 L414.7 345.8 L419.7 348.3 L422.2 352.5 L420.5 356.7 L416.3 358.3 L413.0 355.8 L410.5 358.3 L407.2 355.8 L405.5 352.5Z" fill="#ffffff" stroke="#ffffff" stroke-width="0.5"/>
<path d="M430.5 365.0 L428.0 364.2 L421.3 365.8 L414.7 368.3 L413.0 371.7 L418.0 375.0 L423.0 378.3 L428.0 383.3 L430.5 385.8 L430.5 391.7 L426.3 390.0 L421.3 386.7 L416.3 381.7 L411.3 376.7 L406.3 374.2 L399.7 375.0 L394.7 373.3 L395.5 371.7 L401.3 370.0 L408.0 368.3 L413.8 365.0 L418.8 362.5 L423.8 360.0 L430.5 358.3Z" fill="#ffffff" stroke="#ffffff" stroke-width="0.5"/>
<path d="M349.7 401.3 L361.3 397.5 L373.0 397.0 L384.7 398.0 L394.7 400.0 L403.0 403.3 L411.3 407.5 L418.0 411.7 L423.0 415.0 L421.3 417.5 L414.7 415.0 L406.3 412.5 L398.0 409.2 L388.0 406.7 L378.0 405.0 L368.0 405.0 L358.0 405.3 L349.7 403.3Z" fill="#ffffff" stroke="#ffffff" stroke-width="0.5"/>
<path d="M327.5 361.7 L331.3 360.8 L334.7 364.2 L333.0 369.2 L328.8 370.0 L327.5 368.3Z" fill="#ffffff" stroke="#ffffff" stroke-width="0.5"/>
<path d="M368.8 408.3 L376.3 410.0 L384.7 412.5 L393.0 415.0 L398.8 419.2 L400.5 425.8 L368.8 425.8Z" fill="#a6d4fa" stroke="#a6d4fa" stroke-width="0.5"/>
<path d="M378.8 416.7 L383.0 414.2 L387.2 416.7 L391.3 420.8 L378.0 420.8Z" fill="#05bdfb" stroke="#05bdfb" stroke-width="0.5"/>
<path d="M327.5 289.5 L329.7 289.5 L329.7 291.7 L327.5 291.7Z" fill="none" stroke="#444" stroke-width="0.7"/>
<path d="M405.5 349.2 L408.8 346.7 L414.7 345.8 L419.7 348.3 L422.2 352.5 L420.5 356.7 L416.3 358.3 L413.0 355.8 L410.5 358.3 L407.2 355.8 L405.5 352.5Z" fill="none" stroke="#444" stroke-width="0.7"/>
<path d="M430.5 365.0 L428.0 364.2 L421.3 365.8 L414.7 368.3 L413.0 371.7 L418.0 375.0 L423.0 378.3 L428.0 383.3 L430.5 385.8 L430.5 391.7 L426.3 390.0 L421.3 386.7 L416.3 381.7 L411.3 376.7 L406.3 374.2 L399.7 375.0 L394.7 373.3 L395.5 371.7 L401.3 370.0 L408.0 368.3 L413.8 365.0 L418.8 362.5 L423.8 360.0 L430.5 358.3Z" fill="none" stroke="#444" stroke-width="0.7"/>
<path d="M349.7 401.3 L361.3 397.5 L373.0 397.0 L384.7 398.0 L394.7 400.0 L403.0 403.3 L411.3 407.5 L418.0 411.7 L423.0 415.0 L421.3 417.5 L414.7 415.0 L406.3 412.5 L398.0 409.2 L388.0 406.7 L378.0 405.0 L368.0 405.0 L358.0 405.3 L349.7 403.3Z" fill="none" stroke="#444" stroke-width="0.7"/>
<path d="M394.7 289.5 L398.0 296.7 L401.3 305.0 L405.5 313.3 L409.7 321.7 L414.7 330.0 L419.7 338.3 L424.7 345.0 L428.0 350.8 L426.3 355.8 L423.8 360.0" fill="none" stroke="#444" stroke-width="0.7"/>
</g>
<path d="M114.3 132.0 L122.2 131.2 L122.7 133.0 L117.2 135.0 L114.7 134.2 L114.3 132.0 M146.7 149.7 L151.3 148.3 L152.7 150.0 L149.7 152.0 L146.7 149.7 M168.8 147.5 L174.7 147.0 L181.3 149.7 L187.2 152.0 L185.5 153.3 L178.0 151.7 L170.5 149.2 L168.8 147.5 M120.5 112.0 L123.8 111.7 L127.2 114.2 L124.7 115.3 L120.5 112.0 M249.7 198.0 L256.3 201.5 L264.5 204.3 L267.3 207.3 L266.8 211.8 L265.7 216.5 L262.8 220.0 L262.2 224.7 L259.8 230.3 L261.7 236.2 L261.0 243.0 L261.7 250.0 L261.3 253.3 L259.3 258.3 L256.3 265.8 L255.0 271.7 L257.2 275.8 L258.8 279.2 L255.5 283.3 L258.0 288.3 L262.2 293.3 L267.2 298.3 L273.0 302.5 L278.8 307.5 L283.0 313.3 L287.2 317.5 L292.2 320.8 L295.5 325.0 L297.2 330.5 M528.8 298.2 L534.7 294.8 L541.3 294.3 L543.3 298.2 L538.8 302.0 L532.2 302.3 L528.8 298.2 M138.8 299.5 L137.2 306.7 L133.8 315.0 L133.0 321.7 L135.5 327.5 L143.0 330.0 L150.5 332.5 L158.0 338.3 L161.3 343.3 L160.5 350.0 L161.3 356.7 L162.2 363.3 L158.8 368.3 L151.3 370.8 L144.7 373.3 L138.8 376.7 L135.5 383.3 L137.2 390.0 L134.7 396.7 L129.7 400.0 L124.7 404.2 L119.7 408.3 L113.0 416.7 L102.5 420.0 M102.5 386.7 L106.3 383.3 L111.3 381.7 L118.8 378.3 L119.7 371.7 L117.2 363.3 L116.3 355.0 L114.7 348.3 L110.5 340.0 L106.3 333.3 L102.5 328.3 M102.5 197.5 L109.7 196.7 L114.7 196.7 L118.8 200.8 L119.3 206.7 L115.5 211.7 L111.3 215.0 L108.8 219.2 L109.7 225.0 L111.3 228.3 L116.3 231.7 L121.3 235.0 L126.3 237.5 L133.0 240.8 L141.3 244.2 L149.7 246.7 L158.0 250.0 L164.7 254.2 L171.3 259.2 L178.0 262.5 L186.3 265.8 L194.7 270.0 L198.8 273.3 L201.3 277.5 L206.3 281.7 L213.0 288.3 L218.0 296.7 L220.5 303.3 L220.0 309.2 L218.0 315.8 L213.8 319.7 L209.7 316.7 L204.7 312.5 L201.0 308.0 L198.8 304.2 L196.3 300.0 L191.3 295.0 L184.7 293.3 L178.0 290.8 L171.3 287.5 L164.7 284.2 L161.3 280.0 L154.7 281.7 L148.0 290.0 L143.0 300.0 L138.8 310.5 M297.2 329.5 L301.3 336.7 L306.3 345.0 L310.5 351.7 L314.7 358.3 L316.8 363.3 L316.0 369.2 L315.0 375.0 L318.0 380.0 L321.3 386.7 L326.3 393.3 L331.3 400.0 L336.3 404.2 L343.0 405.0 L353.0 403.3 L359.7 400.8 L366.3 396.7 L373.0 395.3 L383.0 395.3 L393.0 396.7 L403.5 399.2 M368.8 404.2 L376.3 401.7 L386.3 402.0 L394.7 403.3 L403.5 404.2 M368.8 460.5 L368.8 404.2 M274.3 329.5 L278.0 335.0 L283.0 339.2 L288.0 341.7 L290.0 340.0 L286.3 335.0 L283.0 329.5 M309.7 378.3 L313.0 375.0 L316.0 377.5 L315.5 384.2 L312.2 388.3 L309.3 385.0 L309.7 378.3 M402.5 314.8 L406.3 319.0 L410.5 325.7 L414.7 332.3 L418.8 339.0 L423.8 345.7 L428.0 352.3 L426.3 357.3 L421.3 359.0 L417.2 358.2 L413.0 361.5 L409.7 367.3 L405.5 370.7 L402.5 372.3 M414.7 368.2 L419.7 364.8 L426.3 362.3 L430.5 365.7 L433.0 370.7 L438.8 375.7 L444.7 378.2 L451.3 381.5 L458.8 382.3 L463.0 385.7 L465.5 392.3 L467.2 399.0 L468.8 405.7 L473.0 410.7 L479.7 410.7 L482.2 414.0 L481.3 420.7 L476.3 422.3 L471.3 419.0 L467.2 417.3 L464.7 412.3 L460.5 407.3 L458.0 402.3 L453.0 399.0 L448.0 397.3 L443.0 396.5 L440.5 392.3 L436.3 387.3 L431.3 382.3 L426.3 378.2 L421.3 374.8 L416.3 372.3 L414.7 368.2 M402.5 373.2 L408.0 374.0 L413.0 377.3 L418.0 382.3 L423.0 387.3 L428.0 390.7 L434.7 392.3 L438.8 394.0 L441.3 399.0 L446.3 402.3 L453.0 404.0 L458.0 409.0 L459.7 415.7 L458.0 424.0 L459.7 430.7 L461.3 434.5 M430.5 353.2 L433.8 352.0 L435.8 354.3 L433.3 356.7 L430.8 355.7 L430.5 353.2 M438.8 352.7 L442.2 354.8 L445.5 357.7 L447.7 357.0 L446.7 359.8 L443.0 359.8 L440.0 356.5 L438.8 352.7 M450.5 354.0 L453.0 349.8 L455.5 348.2 L456.3 352.3 L453.8 355.7 L450.5 354.0 M475.8 366.0 L478.8 364.8 L482.2 369.0 L485.5 374.0 L484.7 377.3 L480.5 375.7 L477.2 372.3 L475.5 369.0 L475.8 366.0 M501.7 309.0 L506.3 307.7 L509.7 310.7 L513.8 309.8 L518.0 306.5 L518.8 309.0 L516.3 315.7 L514.7 320.3 L510.5 318.2 L507.2 319.8 L503.8 316.5 L502.2 313.2 L501.7 309.0 M536.3 349.8 L541.3 348.2 L548.0 346.5 L553.5 344.0 M553.5 362.3 L549.7 363.2 L544.7 359.8 L539.7 357.3 L536.7 354.0 L536.3 349.8 M536.3 388.2 L541.3 386.0 L546.3 386.5 L549.7 389.8 L549.3 397.3 L548.0 404.0 L543.8 410.7 L538.8 408.2 L537.2 404.0 L540.0 399.0 L538.8 393.2 L536.3 388.2 M486.3 420.7 L489.7 419.0 L494.7 424.0 L498.8 429.0 L499.7 434.5 M493.0 434.5 L488.8 428.2 L486.0 424.0 L486.3 420.7 M522.5 386.8 L525.5 385.7 L527.2 387.8 L524.7 389.8 L522.5 386.8 M498.3 334.8 L501.0 333.2 L502.5 335.3 L500.0 338.2 L498.3 334.8 M552.5 332.3 L563.0 332.7 L573.0 332.0 L578.0 331.5 L583.5 332.0 L583.3 336.5 L578.3 341.5 L573.3 345.7 L569.7 348.7 L573.8 353.2 L577.7 359.8 L575.5 365.7 L574.3 372.3 L574.7 379.0 L575.5 387.3 L580.5 392.3 L586.3 394.8 L593.0 395.7 L595.5 399.0 L593.8 402.3 L588.8 401.5 L583.8 399.8 L580.5 402.3 L581.3 406.5 L584.7 411.5 L588.8 416.5 L593.8 420.7 L598.0 424.8 L600.5 429.8 L601.3 434.5 M558.8 384.0 L563.0 382.3 L567.2 385.7 L569.7 392.3 L570.5 399.0 L573.8 404.0 L578.0 408.2 L576.3 410.7 L571.3 408.2 L567.2 404.0 L563.0 402.3 L558.8 404.0 L554.7 402.3 L553.8 399.0 L558.0 396.5 L559.7 390.7 L558.8 384.0 M552.5 344.0 L557.2 343.2 L561.3 345.7 L560.5 350.7 L564.7 355.7 L568.0 360.7 L566.3 364.8 L561.3 365.7 L556.3 364.0 L552.5 362.3 M702.5 519.8 L708.0 517.3 L714.7 514.8 L721.3 512.3 L728.0 511.5 L733.0 514.8 L737.2 509.8 L736.3 504.0 L739.7 497.3 L738.8 490.7 L740.5 484.0 L744.7 480.7 L751.3 481.5 L759.7 482.3 L768.0 483.2 L774.7 485.7 L781.3 489.8 L788.0 494.0 L794.7 498.2 L801.3 500.7 L806.3 505.7 L811.3 511.5 L816.3 516.5 L823.5 520.7 M588.0 433.5 L593.0 439.0 L594.7 445.7 L596.3 452.3 L603.0 455.7 L609.7 459.0 L612.2 462.3 L608.0 466.5 L603.0 466.5 L598.0 467.3 L596.3 472.3 L599.7 474.8 L608.0 473.2 L619.7 474.0 L631.3 473.2 L639.7 471.5 L636.3 476.5 L631.3 479.0 L630.5 484.0 L636.3 485.7 L633.0 490.7 L628.0 495.7 L631.3 496.5 L638.0 489.0 L643.0 484.0 L649.7 482.3 L654.7 484.0 L659.7 489.0 L666.3 491.5 L673.0 494.0 L677.2 500.7 L679.7 505.7 L686.3 510.7 L693.0 514.0 L699.7 517.3 L703.5 518.2 M602.2 489.0 L608.0 485.7 L616.3 484.0 L624.7 484.0 L633.0 484.8 L634.7 487.3 L628.0 489.0 L619.7 489.8 L611.3 491.5 L604.7 491.5 L602.2 489.0 M616.0 519.0 L619.7 514.0 L626.3 509.0 L633.0 504.8 L638.8 503.2 L639.7 507.3 L636.3 514.0 L631.3 520.7 L626.3 527.3 L621.3 532.3 L617.2 533.2 L618.0 525.7 L616.0 519.0 M588.8 549.0 L592.2 540.7 L595.5 533.2 L596.7 535.7 L595.5 544.0 L596.3 552.3 L593.0 558.2 L589.7 556.5 L588.8 549.0 M578.8 559.0 L583.8 557.0 L586.3 558.2 L583.0 561.5 L579.7 562.0 L578.8 559.0 M582.7 487.3 L588.0 482.3 L594.7 479.0 L600.5 478.7 L599.7 482.3 L593.8 484.8 L588.8 488.2 L584.7 490.7 L582.7 487.3 M581.3 473.2 L583.8 470.7 L587.2 473.2 L586.3 477.0 L583.0 477.3 L581.3 473.2 M576.3 463.2 L579.3 462.3 L581.0 466.5 L578.0 467.3 L576.3 463.2 M618.8 494.8 L621.7 492.3 L623.8 494.8 L622.7 499.0 L619.7 498.2 L618.8 494.8 M591.0 495.7 L593.0 494.3 L594.7 496.0 L593.0 498.0 L591.0 495.7 M554.7 496.0 L558.0 494.0 L562.2 494.8 L560.5 498.2 L556.3 499.3 L554.7 496.0 M598.8 501.5 L602.2 500.7 L604.7 504.8 L602.2 506.5 L599.7 504.8 L598.8 501.5 M560.5 440.7 L563.8 439.0 L565.5 442.3 L562.2 444.0 L560.5 440.7 M418.0 433.5 L419.7 439.0 L424.7 442.3 L433.0 445.7 L436.3 449.8 L431.3 450.7 L426.3 449.0 L421.3 452.3 L418.8 455.7 L414.7 450.7 L409.7 445.7 L405.5 444.0 L402.5 442.3 M402.5 452.3 L406.3 459.0 L409.7 467.3 L413.0 475.7 L416.3 484.0 L414.7 490.7 L418.0 497.3 L421.3 501.5 L419.7 504.0 L414.7 500.7 L411.3 495.7 L408.0 489.0 L404.7 484.0 L402.5 482.3 M408.8 508.2 L412.2 506.5 L416.3 510.7 L418.0 514.8 L414.7 519.8 L410.5 518.2 L408.8 513.2 L408.8 508.2 M435.5 564.5 L438.0 554.0 L438.8 547.3 L440.5 554.0 L443.8 550.7 L444.7 543.2 L446.7 550.7 L451.3 552.3 L458.0 553.2 L459.7 549.0 L463.8 549.0 L465.5 554.0 L467.2 559.0 L473.0 560.7 L481.3 559.0 L489.7 558.2 L498.0 558.2 L504.7 560.7 L511.3 562.3 L518.0 563.2 L524.7 562.3 L532.2 561.5 L533.0 564.5 M468.0 439.8 L471.0 436.5 L473.8 438.2 L473.0 442.3 L469.7 444.8 L468.0 439.8 M472.2 449.8 L475.0 447.3 L477.2 450.7 L475.5 454.8 L472.7 456.5 L472.2 449.8 M474.3 464.0 L477.2 462.0 L479.7 464.3 L478.0 467.3 L475.0 467.0 L474.3 464.0 M484.3 471.5 L487.2 471.0 L489.7 475.7 L487.2 478.7 L485.0 475.7 L484.3 471.5 M470.5 488.2 L474.7 486.5 L478.8 484.0 L481.3 482.3 L482.7 484.8 L480.5 489.0 L476.3 491.5 L470.5 492.3 L470.5 488.2 M493.8 448.2 L496.0 445.7 L498.3 449.0 L497.2 453.2 L494.3 452.7 L493.8 448.2 M496.3 433.5 L501.3 437.3 L506.3 439.0 L510.5 440.7 L509.7 444.0 L504.7 443.2 L499.7 439.8 L495.5 435.7 L496.3 433.5 M513.0 447.3 L517.2 446.5 L519.7 449.0 L516.3 451.5 L513.3 450.7 L513.0 447.3 M500.5 474.0 L505.5 467.3 L511.3 465.7 L512.2 469.8 L508.8 474.0 L503.0 475.7 L500.5 474.0 M514.3 469.8 L519.7 464.0 L523.8 462.7 L526.0 467.3 L524.7 474.0 L519.7 477.7 L516.3 475.7 L514.3 469.8 M510.5 486.5 L513.0 484.3 L516.3 488.2 L517.2 491.5 L513.8 492.3 L511.3 489.8 L510.5 486.5 M502.2 491.5 L506.3 489.0 L507.2 490.7 L503.0 493.2 L502.2 491.5 M513.8 503.2 L517.2 501.5 L520.5 504.0 L520.5 508.2 L517.2 509.3 L518.0 505.7 L515.5 504.8 L513.8 503.2 M531.3 506.5 L533.8 505.3 L536.3 508.2 L532.7 508.7 L531.3 506.5 M532.2 484.0 L536.3 481.5 L541.3 478.2 L544.7 477.7 L544.7 479.3 L539.7 482.3 L534.7 485.7 L532.2 484.0 M541.3 444.0 L545.5 439.8 L553.5 438.2 M553.5 441.5 L548.0 443.2 L543.0 445.7 L541.3 444.0 M429.7 455.7 L433.8 454.0 L438.0 453.2 L437.2 454.8 L432.2 457.3 L429.7 455.7 M459.7 433.5 L458.8 437.3 L454.7 438.2 L453.0 433.5 M427.2 439.8 L429.7 438.7 L431.0 441.5 L428.3 442.3 L427.2 439.8 M359.7 400.8 L368.0 403.3 L376.3 407.5 L384.7 410.8 L393.0 413.3 L400.5 417.5 L407.2 420.0 L411.3 423.3 L416.3 425.8 L418.8 431.7 L421.3 438.3 L426.3 442.5 L431.3 445.8 L435.5 448.3 L433.8 450.8 L428.0 450.8 L423.0 454.2 L418.8 453.3 L414.7 449.2 L409.7 445.8 L404.7 442.5 L402.2 445.0 L404.7 450.8 L408.0 456.7 L409.7 463.3 L412.2 470.0 L415.5 478.3 L417.2 485.8 L416.3 491.7 L418.0 497.5 L420.5 502.5 L418.0 503.3 L413.8 498.3 L409.7 493.3 L406.3 488.3 L403.0 485.0 L399.7 488.3 L396.3 493.3 L393.0 498.3 L391.3 505.0 L388.0 501.7 L385.5 496.7 L383.8 490.0 L381.3 483.3 L378.0 478.3 L374.7 473.3 L371.3 478.3 L368.0 485.0 L363.0 486.7 L358.8 483.3 L356.3 476.7 L354.7 472.5 L349.7 460.0 L346.3 448.3 L343.0 436.7 L342.5 423.3 L348.0 410.0 L353.0 403.3 L359.7 400.8 M408.8 510.0 L411.3 506.7 L415.5 511.7 L418.0 515.8 L415.5 520.5 L411.3 519.2 L409.7 514.2 L408.8 510.0 M449.7 432.5 L461.3 432.5 L459.7 435.8 L457.2 438.3 L453.0 435.0 L449.7 432.5 M431.3 432.5 L436.3 430.8 L437.7 434.2 L434.7 436.7 L432.2 435.3 L431.3 432.5 M436.1 564.8 L437.8 546.6 L440.1 553.2 L443.4 551.6 L444.4 543.3 L446.7 551.6 L456.0 553.2 L460.9 548.3 L464.3 549.9 L465.9 554.9 L469.2 559.9 L479.2 560.5 L489.1 558.2 L499.0 558.2 L502.3 561.5 L512.3 563.2 L525.5 562.5 L531.5 562.5 L532.1 571.5 L535.5 573.1 L542.1 569.8 L550.4 568.1 L555.3 563.8 L556.0 569.8 L553.7 576.4 L548.7 579.7 L538.8 580.4 L528.8 582.4 L515.6 583.0 L502.3 583.7 L489.8 583.7 L488.4 577.1 L479.2 573.1 L469.2 570.5 L456.0 569.1 L444.4 568.1 L436.1 564.8 M588.4 551.6 L591.7 540.0 L595.7 539.0 L595.1 548.3 L596.7 554.9 L592.4 558.2 L588.4 551.6 M578.5 559.9 L585.1 556.6 L586.8 558.2 L581.1 562.2 L578.5 559.9 M457.6 585.7 L460.9 584.7 L461.9 589.0 L458.6 589.7 L457.6 585.7 M813.0 575.1 L816.1 576.2 L819.2 575.7 L823.2 573.8 M823.2 595.4 L819.2 592.3 L816.1 586.2 L814.5 580.0 L813.0 575.1 M568.7 433.3 L573.0 430.0 L579.7 429.0 L586.3 430.7 L589.7 434.7 L584.7 438.0 L576.3 437.3 L571.3 436.7 L568.7 433.3" fill="none" stroke="#4a4a4a" stroke-width="0.7" stroke-linejoin="round"/>
<path d="M130.5 113.7 L133.8 111.7 L139.7 112.5 L145.5 113.7 L151.3 117.5 L148.0 120.0 L141.3 120.0 L135.5 119.2 L131.3 117.5Z" fill="none" stroke="#33557a" stroke-width="0.7" stroke-linejoin="round"/>
<path d="M129.7 123.7 L133.8 121.7 L138.8 123.0 L143.0 125.8 L151.3 126.3 L160.5 127.5 L162.2 128.7 L153.0 128.7 L143.0 128.3 L136.3 127.5 L131.3 126.3Z" fill="none" stroke="#33557a" stroke-width="0.7" stroke-linejoin="round"/>
<path d="M140.5 136.7 L144.7 135.3 L151.3 135.8 L158.0 134.2 L164.7 135.0 L169.7 136.7 L173.0 139.2 L166.3 140.0 L159.7 140.8 L151.3 142.0 L144.7 140.8 L141.0 139.2Z" fill="none" stroke="#33557a" stroke-width="0.7" stroke-linejoin="round"/>
<path d="M154.7 134.2 L159.7 132.5 L167.2 133.3 L173.8 136.7 L181.3 140.8 L178.8 142.0 L172.2 139.2 L166.3 136.7 L159.7 135.3Z" fill="none" stroke="#33557a" stroke-width="0.7" stroke-linejoin="round"/>
<path d="M102.5 92.5 L105.5 95.0 L108.0 100.0 L110.5 103.3 L115.5 105.8 L120.5 105.3 L126.3 103.3 L129.7 104.2 L132.2 107.5 L138.8 108.7 L144.7 110.0 L149.7 111.7 L153.0 115.8 L156.3 120.0 L160.5 123.3 L164.7 127.5 L169.7 131.7 L174.7 135.8 L177.2 138.3 L183.0 140.8 L189.7 145.0 L193.8 150.0 L199.7 153.3 L206.3 157.5 L213.0 161.7 L218.0 166.7 L223.0 170.8 L228.0 175.0 L233.0 180.0 L238.0 185.0 L243.0 190.0 L248.0 195.8 L251.3 200.5" fill="none" stroke="#2b4a6a" stroke-width="0.7" stroke-linejoin="round"/>
<path d="M479.7 267.3 L482.2 263.2 L487.2 262.3 L490.0 266.5 L489.7 272.3 L485.5 275.7 L481.3 274.0 L479.2 270.7Z" fill="none" stroke="#3a4a5a" stroke-width="0.8" stroke-linejoin="round"/>
<path d="M519.7 281.5 L523.8 279.3 L528.8 280.7 L529.7 284.0 L525.5 286.5 L521.0 284.8Z" fill="none" stroke="#3a4a5a" stroke-width="0.8" stroke-linejoin="round"/>
<path d="M402.5 282.3 L408.0 283.2 L413.0 287.3 L419.7 290.7 L426.3 293.2 L428.0 299.0 L426.3 304.5 L433.0 304.5 L433.8 297.3 L439.7 294.0 L443.8 290.7 L443.0 297.3 L445.5 304.5 L451.3 304.5 L450.5 297.3 L448.0 290.7 L451.3 287.3 L456.3 289.0 L461.3 290.7 L466.3 295.7 L471.3 300.7 L473.8 299.0 L469.7 293.2 L464.7 287.3 L458.0 284.0 L453.0 282.3 L448.0 279.0 L445.5 274.0 L444.7 269.0 L448.8 264.8 L454.7 264.8 L459.7 266.5 L463.0 264.0 L467.2 260.7 L471.3 257.3 L476.3 255.7 L479.7 255.7 L483.0 258.2 L488.0 257.3 L493.0 255.7 L498.0 252.3 L503.0 251.5 L508.0 254.0 L516.3 255.7 L523.0 259.0 L529.7 260.7 L536.3 262.3 L541.3 264.8 L544.7 269.0 L548.0 272.3 L553.5 274.0" fill="none" stroke="#3a4a5a" stroke-width="0.8" stroke-linejoin="round"/>
<path d="M623.0 296.5 L626.3 294.3 L630.5 295.7 L631.0 299.3 L627.2 301.0 L623.8 299.8Z" fill="none" stroke="#666" stroke-width="0.6" stroke-linejoin="round"/>
<path d="M651.0 296.5 L655.5 294.8 L659.7 297.0 L658.8 300.3 L653.8 301.0 L651.3 299.0Z" fill="none" stroke="#666" stroke-width="0.6" stroke-linejoin="round"/>
<path d="M688.8 282.3 L693.8 280.7 L698.8 281.5 L698.0 284.8 L693.0 286.0 L689.3 284.8Z" fill="none" stroke="#666" stroke-width="0.6" stroke-linejoin="round"/>
<path d="M686.3 246.5 L690.0 245.7 L690.7 250.7 L688.0 252.3 L686.3 249.8Z" fill="none" stroke="#666" stroke-width="0.6" stroke-linejoin="round"/>
<path d="M574.7 282.3 L578.0 279.8 L584.7 276.5 L591.3 272.3 L598.0 267.3 L603.0 262.3 L607.2 256.5 L611.3 253.2 L618.0 251.5 L624.7 252.3 L629.7 249.0 L636.3 247.3 L643.0 247.3 L649.7 248.2 L653.0 251.5 L657.2 253.2 L663.0 252.3 L669.7 251.5 L673.0 252.3 L677.2 255.7 L681.3 259.0 L686.3 262.3 L691.3 264.8 L697.2 265.7 L694.7 268.2 L686.3 269.0 L679.7 270.7 L673.0 272.3 L668.0 274.0 L664.7 277.3 L668.0 280.7 L673.0 282.3 L676.3 284.8 L674.7 287.3 L668.0 286.5 L659.7 285.7 L651.3 285.3 L643.0 285.7 L634.7 286.5 L628.0 288.2 L623.0 290.7 L618.0 289.0 L611.3 289.0 L604.7 287.3 L599.7 282.3 L595.5 282.3 L591.3 284.0 L584.7 284.0 L578.0 284.8Z" fill="none" stroke="#444" stroke-width="0.8" stroke-linejoin="round"/>
<path d="M552.5 274.0 L559.7 273.7 L568.0 272.7 L573.8 272.3 L577.7 274.0 L575.5 277.3 L569.7 279.8 L563.0 282.3 L556.3 285.7 L552.5 288.2" fill="none" stroke="#444" stroke-width="0.8" stroke-linejoin="round"/>
<path d="M574.7 282.3 L569.7 287.3 L563.0 294.0 L556.3 300.7 L552.5 304.5" fill="none" stroke="#555" stroke-width="1.2" stroke-linejoin="round"/>
<path d="M619.7 173.5 L621.3 179.0 L624.7 184.0 L628.8 189.8 L631.3 195.7 L632.2 202.3 L633.0 209.0 L635.5 215.7 L639.7 220.7 L645.5 224.8 L651.3 228.2 L658.0 231.5 L664.7 234.8 L671.3 237.0 L678.0 238.2 L686.3 239.3 L694.7 240.7 L703.5 242.3" fill="none" stroke="#444" stroke-width="0.8" stroke-linejoin="round"/>
<path d="M671.7 237.3 L673.0 244.0 L672.2 249.0 L673.0 252.3" fill="none" stroke="#444" stroke-width="0.9" stroke-linejoin="round"/>
<path d="M616.0 280.7 L619.7 277.3 L624.7 277.0 L628.8 279.8 L629.7 284.0 L626.3 287.3 L621.3 289.0 L617.2 285.7Z" fill="none" stroke="#444" stroke-width="0.8" stroke-linejoin="round"/>
<path d="M608.8 272.3 L612.2 269.3 L616.7 270.3 L617.2 273.7 L613.0 275.7 L609.7 274.8Z" fill="none" stroke="#444" stroke-width="0.8" stroke-linejoin="round"/>
<path d="M702.5 242.0 L709.7 243.2 L718.0 243.2 L726.3 239.8 L734.7 240.7 L743.0 242.3 L751.3 245.7 L759.7 245.7 L768.0 243.2 L774.7 239.8 L776.3 233.2 L783.0 229.0 L791.3 224.8 L799.7 219.8 L808.0 214.8 L816.3 209.8 L823.5 206.2" fill="none" stroke="#555" stroke-width="0.9" stroke-linejoin="round"/>
<path d="M126.3 332.5 L134.7 331.3 L142.2 334.2 L147.2 340.0 L148.8 348.3 L146.3 356.7 L142.2 363.3 L134.7 365.8 L127.2 365.0 L123.3 360.8 L124.7 353.3 L128.0 346.7 L126.3 339.2Z" fill="none" stroke="#4a6a8a" stroke-width="0.6" stroke-linejoin="round"/>
<path d="M126.3 375.8 L130.5 374.2 L133.0 378.3 L132.2 385.0 L129.7 390.8 L126.3 395.0 L123.8 392.5 L124.7 385.0Z" fill="none" stroke="#4a6a8a" stroke-width="0.6" stroke-linejoin="round"/>
<path d="M297.2 329.5 L301.3 336.7 L306.3 345.0 L310.5 351.7 L314.7 358.3 L316.8 363.3 L316.0 369.2 L315.0 375.0 L318.0 380.0 L321.3 386.7 L326.3 393.3 L331.3 400.0 L336.3 404.2 L343.0 405.0" fill="none" stroke="#555" stroke-width="0.8" stroke-linejoin="round"/>
<path d="M553.5 308.2 L549.7 309.0 L546.3 314.0 L547.7 320.7 L546.7 329.0 L545.5 336.5 L549.7 338.2 L553.5 337.3" fill="none" stroke="#333" stroke-width="0.8" stroke-linejoin="round"/>
<path d="M428.0 303.5 L429.7 308.2 L435.5 311.5 L442.2 313.2 L444.7 311.5 L439.7 308.2 L436.3 303.5" fill="none" stroke="#333" stroke-width="0.8" stroke-linejoin="round"/>
<path d="M448.8 303.5 L450.5 308.2 L454.7 311.0 L457.2 308.2 L456.3 303.5" fill="none" stroke="#333" stroke-width="0.8" stroke-linejoin="round"/>
<path d="M552.5 332.3 L563.0 332.7 L573.0 332.0 L578.0 331.5 L583.5 332.0 L583.3 336.5 L578.3 341.5 L573.3 345.7 L569.7 348.7 L573.8 353.2 L577.7 359.8 L575.5 365.7 L574.3 372.3 L574.7 379.0 L575.5 387.3 L580.5 392.3 L586.3 394.8 L593.0 395.7 L595.5 399.0 L593.8 402.3 L588.8 401.5 L583.8 399.8 L580.5 402.3 L581.3 406.5 L584.7 411.5 L588.8 416.5 L593.8 420.7 L598.0 424.8 L600.5 429.8 L601.3 434.5" fill="none" stroke="#555" stroke-width="0.8" stroke-linejoin="round"/>
<path d="M731.3 473.2 L733.0 466.5 L735.5 466.0 L736.0 472.3 L734.7 479.0 L732.2 479.3Z" fill="none" stroke="#555" stroke-width="0.7" stroke-linejoin="round"/>
<path d="M702.5 519.8 L708.0 517.3 L714.7 514.8 L721.3 512.3 L728.0 511.5 L733.0 514.8 L737.2 509.8 L736.3 504.0 L739.7 497.3 L738.8 490.7 L740.5 484.0 L744.7 480.7 L751.3 481.5 L759.7 482.3 L768.0 483.2 L774.7 485.7 L781.3 489.8 L788.0 494.0 L794.7 498.2 L801.3 500.7 L806.3 505.7 L811.3 511.5 L816.3 516.5 L823.5 520.7" fill="none" stroke="#555" stroke-width="0.8" stroke-linejoin="round"/>
<path d="M404.3 430.8 L408.0 428.0 L413.8 428.7 L416.7 434.2 L414.7 439.2 L409.7 439.7 L405.5 435.8Z" fill="none" stroke="#4a6a9a" stroke-width="0.6" stroke-linejoin="round"/>
<path d="M393.5 460.0 L396.3 453.7 L399.7 455.0 L402.7 461.7 L402.2 467.0 L397.2 468.3 L393.8 465.0Z" fill="none" stroke="#4a6a9a" stroke-width="0.6" stroke-linejoin="round"/>
<path d="M128.0 70.0 L143.0 86.7 L166.3 105.8 L168.8 117.5 L176.3 125.0 L184.7 133.3 L183.8 138.3 L177.2 140.8 L184.0 141.5 L192.0 144.5 L205.0 152.0 L216.9 157.4" fill="none" stroke="#2a1445" stroke-width="0.6" stroke-linejoin="round"/>
<path d="M252.7 70.0 L252.7 76.6 L261.9 85.9 L261.9 96.5 L251.3 101.8 L240.7 104.4 L236.8 112.4 L227.5 117.7 L224.9 125.6 L219.6 133.6 L220.9 146.8 L216.9 157.4 L223.5 160.1 L228.0 166.0 L240.0 178.0 L252.0 192.0" fill="none" stroke="#2a1445" stroke-width="0.6" stroke-linejoin="round"/>
<path d="M251.3 101.8 L261.9 112.4 L272.5 123.0 L285.8 130.9 L299.0 141.5 L293.7 149.5 L285.8 149.5 L285.8 162.7 L272.5 165.4 L268.6 157.4 L261.9 169.3 L256.6 181.3 L262.0 196.0 L266.0 204.0" fill="none" stroke="#2a1445" stroke-width="0.6" stroke-linejoin="round"/>
<path d="M285.8 162.7 L293.7 170.7 L301.7 176.0 L312.3 173.3 L322.9 181.3 L330.8 183.9 L343.0 181.3 L352.0 178.0 L362.0 183.0 L372.0 180.0 L380.0 172.0 L390.0 176.0" fill="none" stroke="#2a1445" stroke-width="0.6" stroke-linejoin="round"/>
<path d="M301.7 176.0 L307.0 186.6 L305.6 197.2 L308.0 200.0 L306.3 210.0 L303.0 220.0 L306.3 228.3 L308.8 238.3 L311.3 248.3 L316.3 255.0 L325.0 258.0 L333.0 259.2" fill="none" stroke="#2a1445" stroke-width="0.6" stroke-linejoin="round"/>
<path d="M333.0 259.2 L343.0 257.5 L353.0 258.3 L361.3 255.0 L368.0 245.0 L376.3 241.7 L386.3 243.3 L394.7 244.2 L403.5 241.7 L403.0 231.5" fill="none" stroke="#2a1445" stroke-width="0.6" stroke-linejoin="round"/>
<path d="M333.0 259.2 L326.3 270.0 L321.3 280.0 L318.0 283.3 L319.7 293.3 L324.7 303.3 L328.0 313.3 L326.3 321.7 L320.0 326.0 L312.0 330.0" fill="none" stroke="#2a1445" stroke-width="0.6" stroke-linejoin="round"/>
<path d="M403.0 231.5 L413.0 229.0 L423.0 227.3 L429.7 229.0 L436.3 226.5 L444.7 224.0 L451.3 221.5 L459.7 219.8 L464.7 222.3 L473.0 219.8 L480.5 219.0 L483.0 224.0 L489.7 227.3 L496.3 229.0 L503.0 231.5 L509.7 236.5 L518.0 238.2 L526.3 235.7 L534.7 233.2 L541.3 232.3 L548.0 230.7 L550.5 222.3 L549.7 215.7 L546.3 210.7 L551.3 207.3 L553.5 209.0 L558.0 205.7" fill="none" stroke="#2a1445" stroke-width="0.6" stroke-linejoin="round"/>
<path d="M390.0 176.0 L398.0 185.0 L408.0 197.3 L413.0 205.7 L414.7 214.0 L411.3 222.3 L406.3 229.0 L403.0 231.5" fill="none" stroke="#2a1445" stroke-width="0.6" stroke-linejoin="round"/>
<path d="M558.0 205.7 L564.7 200.7 L569.7 195.7 L578.0 194.0 L586.3 190.7 L593.0 189.0 L598.0 190.7 L603.0 195.7 L609.7 199.0 L616.3 195.7 L623.0 194.0 L628.0 194.8" fill="none" stroke="#2a1445" stroke-width="0.6" stroke-linejoin="round"/>
<path d="M558.0 205.7 L564.7 212.3 L569.7 219.0 L568.8 227.3 L563.0 234.0 L558.0 237.3 L556.3 245.7 L558.0 252.3 L554.7 257.3 L553.0 262.0" fill="none" stroke="#2a1445" stroke-width="0.6" stroke-linejoin="round"/>
<path d="M389.7 143.3 L393.0 153.3 L389.7 163.3 L394.7 173.3 L399.7 176.7 L406.3 186.7 L409.7 196.7" fill="none" stroke="#2a1445" stroke-width="0.6" stroke-linejoin="round"/>
<!--MAPEND-->
</g>
<!-- OVERLAYS -->
<g id="clabels" font-size="7.5" font-weight="bold" text-anchor="middle" style="fill:#000"><text x="127.5" y="98.7" style="fill:#111">-4</text><text x="135.0" y="113.7" style="fill:#111">-2</text><text x="157.0" y="102.7" style="fill:#111">-6</text><text x="194.0" y="110.2" style="fill:#111">-8</text><text x="156.0" y="131.7" style="fill:#111">0</text><text x="142.0" y="138.7" style="fill:#111">0</text><text x="320.0" y="89.7" style="fill:#111">-8</text><text x="307.0" y="106.7" style="fill:#111">-8</text><text x="322.0" y="161.7" style="fill:#111">-8</text><text x="316.0" y="184.7" style="fill:#111">-8</text><text x="274.0" y="189.7" style="fill:#111">-6</text><text x="257.0" y="199.7" style="fill:#111">-2</text><text x="281.0" y="203.7" style="fill:#111">-4</text><text x="260.0" y="233.7" style="fill:#111">0</text><text x="283.0" y="273.7" style="fill:#111">-2</text><text x="299.0" y="277.7" style="fill:#111">-8</text><text x="372.0" y="206.7" style="fill:#111">-6</text><text x="407.0" y="201.7" style="fill:#111">-8</text><text x="397.0" y="216.7" style="fill:#111">-8</text><text x="367.0" y="243.7" style="fill:#111">-6</text><text x="334.0" y="262.7" style="fill:#111">-8</text><text x="398.0" y="265.7" style="fill:#111">-2</text><text x="378.0" y="277.7" style="fill:#111">-4</text><text x="397.0" y="294.7" style="fill:#111">0</text><text x="422.0" y="285.7" style="fill:#111">-4</text><text x="290.0" y="320.7" style="fill:#111">0</text><text x="366.0" y="330.7" style="fill:#111">-2</text><text x="347.0" y="342.7" style="fill:#111">-6</text><text x="352.0" y="377.7" style="fill:#111">-2</text><text x="127.0" y="294.7" style="fill:#111">0</text><text x="127.0" y="309.7" style="fill:#111">-2</text><text x="125.0" y="346.7" style="fill:#111">0</text><text x="628.0" y="191.7" style="fill:#111">0</text><text x="628.0" y="206.7" style="fill:#111">-2</text><text x="505.0" y="229.7" style="fill:#111">-4</text><text x="495.0" y="250.7" style="fill:#111">-2</text><text x="575.0" y="231.7" style="fill:#111">-2</text><text x="567.0" y="274.7" style="fill:#111">0</text><text x="623.0" y="283.7" style="fill:#111">0</text><text x="673.0" y="289.7" style="fill:#111">-2</text><text x="698.0" y="287.7" style="fill:#111">-4</text><text x="751.0" y="247.7" style="fill:#111">0</text><text x="773.0" y="245.7" style="fill:#111">-2</text><text x="789.0" y="234.7" style="fill:#111">-4</text><text x="786.0" y="273.7" style="fill:#111">-6</text><text x="583.0" y="310.7" style="fill:#111">-4</text><text x="677.0" y="322.7" style="fill:#111">-8</text><text x="705.0" y="329.7" style="fill:#111">-6</text><text x="762.0" y="333.7" style="fill:#111">-6</text><text x="635.0" y="341.7" style="fill:#111">-4</text><text x="693.0" y="347.7" style="fill:#111">-6</text><text x="553.0" y="336.7" style="fill:#111">-2</text><text x="668.0" y="386.7" style="fill:#111">-4</text><text x="587.0" y="386.7" style="fill:#111">0</text><text x="612.0" y="394.7" style="fill:#111">-2</text><text x="626.0" y="398.7" style="fill:#111">-4</text><text x="663.0" y="424.7" style="fill:#111">-2</text><text x="652.0" y="451.7" style="fill:#111">-2</text><text x="665.0" y="467.7" style="fill:#111">-2</text><text x="669.0" y="483.7" style="fill:#111">0</text><text x="720.0" y="427.7" style="fill:#111">-6</text><text x="756.0" y="423.7" style="fill:#111">-6</text><text x="801.0" y="412.7" style="fill:#111">-6</text><text x="718.0" y="451.7" style="fill:#111">-4</text><text x="733.0" y="456.7" style="fill:#111">-2</text><text x="750.0" y="456.7" style="fill:#111">0</text><text x="710.0" y="474.7" style="fill:#111">-4</text><text x="811.0" y="487.7" style="fill:#111">-4</text><text x="395.0" y="419.7" style="fill:#111">0</text><text x="420.0" y="420.7" style="fill:#111">0</text></g>

<g id="arrows" stroke="#000" fill="#000">
<line x1="238.7" y1="402.3" x2="344.5" y2="279" stroke-width="7" stroke-dasharray="21 7.5" stroke-dashoffset="6"/>
<polygon points="355.4,266.2 334.6,270.8 350,287.2" stroke="none"/>
<line x1="238.7" y1="402.3" x2="437.5" y2="249.2" stroke-width="7" stroke-dasharray="21 8" stroke-dashoffset="8"/>
<polygon points="452.2,237.9 430.6,241.4 442.6,257.6" stroke="none"/>
</g>
<g id="infobox">
<rect x="396" y="72.2" width="423.3" height="64.8" fill="#dcdcdc"/>
<rect x="396" y="72.2" width="69.3" height="64.8" fill="#e9e8f8"/>
<rect x="396" y="136.9" width="423.3" height="36.9" fill="#373638"/>
<g id="thermo">
<ellipse cx="429.6" cy="124" rx="16.4" ry="11.9" fill="#cdd4e8"/>
<rect x="419.8" y="72.8" width="19.7" height="50" rx="9.8" fill="#cdd4e8"/>
<ellipse cx="429.6" cy="124" rx="14.2" ry="10.2" fill="#d3e0f7"/>
<rect x="422" y="74.6" width="15.2" height="50" rx="7.6" fill="#d3e0f7"/>
<g fill="#f2f6fd"><circle cx="424" cy="79.9" r="1.2"/><circle cx="424" cy="85.2" r="1.2"/><circle cx="424" cy="90.7" r="1.2"/><circle cx="424" cy="96" r="1.2"/><circle cx="424" cy="101.3" r="1.2"/><circle cx="424" cy="106.8" r="1.2"/><circle cx="424" cy="112.4" r="1.2"/>
<circle cx="435.1" cy="79.9" r="1.2"/><circle cx="435.1" cy="85.2" r="1.2"/><circle cx="435.1" cy="90.7" r="1.2"/><circle cx="435.1" cy="96" r="1.2"/><circle cx="435.1" cy="101.3" r="1.2"/><circle cx="435.1" cy="106.8" r="1.2"/><circle cx="435.1" cy="112.4" r="1.2"/></g>
<rect x="428.3" y="111.4" width="2.6" height="11" rx="1" fill="#1a8be6"/>
<ellipse cx="429.6" cy="123.8" rx="7.1" ry="5.6" fill="#1a8be6"/>
</g>
<text x="642.5" y="100.9" font-size="17.6" text-anchor="middle" textLength="196" lengthAdjust="spacingAndGlyphs" fill="#111">Ελάχιστες θερμοκρασίες</text>
<text x="642.5" y="121.4" font-size="17.6" text-anchor="middle" textLength="238" lengthAdjust="spacingAndGlyphs" fill="#111">κάτω από 0 βαθμούς Κελσίου</text>
<text x="606" y="159.8" font-size="13.4" font-weight="bold" text-anchor="middle" textLength="230" lengthAdjust="spacingAndGlyphs" style="fill:#fff">Παρασκευή 15 Ιανουαρίου 2021</text>
</g>
<g id="label">
<rect x="105.6" y="404.3" width="263.9" height="68.2" rx="10.5" fill="#222" fill-opacity="0.97"/>
<text x="237.5" y="435.2" font-size="16.6" font-weight="bold" text-anchor="middle" textLength="249" lengthAdjust="spacingAndGlyphs" style="fill:#fff">Ελάχιστες θερμοκρασίες κάτω</text>
<text x="237.5" y="457.7" font-size="16.6" font-weight="bold" text-anchor="middle" textLength="206" lengthAdjust="spacingAndGlyphs" style="fill:#fff">από -6 βαθμούς Κελσίου</text>
</g>
<g id="logo">
<polygon fill="#1b1fd1" points="84,698.2 106,698.2 116.9,711.5 127.9,698.2 149.7,698.2 149.7,732.5 132.2,732.5 132.2,720.9 119.6,732.5 114.2,732.5 100.9,720.9 100.9,732.5 84,732.5"/>
<circle cx="84.4" cy="698.2" r="11.3" fill="#fccf2c"/>
<text x="158" y="710" font-size="15.4" textLength="52" lengthAdjust="spacingAndGlyphs" style="fill:#1b1fd1">Meteo</text>
<text x="158.5" y="723.5" font-size="9.4" textLength="31.5" lengthAdjust="spacingAndGlyphs" style="fill:#1b1fd1">Όλα για</text>
<text x="158.5" y="731.3" font-size="9.4" textLength="42" lengthAdjust="spacingAndGlyphs" style="fill:#1b1fd1">τον καιρό</text>
</g>
<!-- FRAME -->
<rect x="103" y="70" width="720" height="613.8" fill="none" stroke="#222" stroke-width="1.4"/>
<!-- TICKS -->
<g stroke="#222" stroke-width="1.2">
<line x1="86" y1="75.4" x2="103" y2="75.4"/><line x1="86" y1="193.5" x2="103" y2="193.5"/><line x1="86" y1="307.7" x2="103" y2="307.7"/>
<line x1="86" y1="419" x2="103" y2="419"/><line x1="86" y1="526.5" x2="103" y2="526.5"/><line x1="86" y1="632.3" x2="103" y2="632.3"/>
<line x1="284" y1="684" x2="284" y2="701"/><line x1="370.2" y1="684" x2="370.2" y2="701"/><line x1="456.5" y1="684" x2="456.5" y2="701"/>
<line x1="542.7" y1="684" x2="542.7" y2="701"/><line x1="629" y1="684" x2="629" y2="701"/><line x1="715.2" y1="684" x2="715.2" y2="701"/><line x1="801.5" y1="684" x2="801.5" y2="701"/>
</g>
<g class="tc" font-size="14.6" text-anchor="end">
<text x="77.5" y="80.7">44°N</text><text x="77.5" y="198.8">42°N</text><text x="77.5" y="313">40°N</text>
<text x="77.5" y="424.3">38°N</text><text x="77.5" y="531.8">36°N</text><text x="77.5" y="637.6">34°N</text>
</g>
<g class="tc" font-size="14.6" text-anchor="middle">
<text x="284" y="723">20°E</text><text x="370.2" y="723">22°E</text><text x="456.5" y="723">24°E</text><text x="542.7" y="723">26°E</text>
<text x="629" y="723">28°E</text><text x="715.2" y="723">30°E</text><text x="801.5" y="723">32°E</text>
</g>
<!-- COLORBAR -->
<g>
<rect x="838.4" y="72.3" width="20" height="101.8" fill="#fff"/>
<rect x="838.4" y="174.1" width="20" height="101.6" fill="#a3d3fa"/>
<rect x="838.4" y="275.7" width="20" height="101.6" fill="#04bcfb"/>
<rect x="838.4" y="377.3" width="20" height="101.6" fill="#4169e1"/>
<rect x="838.4" y="478.9" width="20" height="101.6" fill="#0000cd"/>
<rect x="838.4" y="580.5" width="20" height="101.6" fill="#882bea"/>
<rect x="838.4" y="72.3" width="20" height="609.8" fill="none" stroke="#555" stroke-width="0.9"/>
<g stroke="#555" stroke-width="0.8"><line x1="838.4" y1="174.1" x2="858.4" y2="174.1"/><line x1="838.4" y1="275.7" x2="858.4" y2="275.7"/><line x1="838.4" y1="377.3" x2="858.4" y2="377.3"/><line x1="838.4" y1="478.9" x2="858.4" y2="478.9"/><line x1="838.4" y1="580.5" x2="858.4" y2="580.5"/></g>
<g class="tc" font-size="19.5">
<text x="861.5" y="189.6">0</text><text x="860" y="291.2">-2</text><text x="860" y="392.8">-4</text><text x="860" y="494.4">-6</text><text x="860" y="596">-8</text>
</g>
</g>
<!-- FOOTER -->
<text class="tb" x="890.5" y="760" font-size="17.2" text-anchor="end">National Observatory of Athens, Greece - meteo.gr</text>
</svg>
</body></html>
